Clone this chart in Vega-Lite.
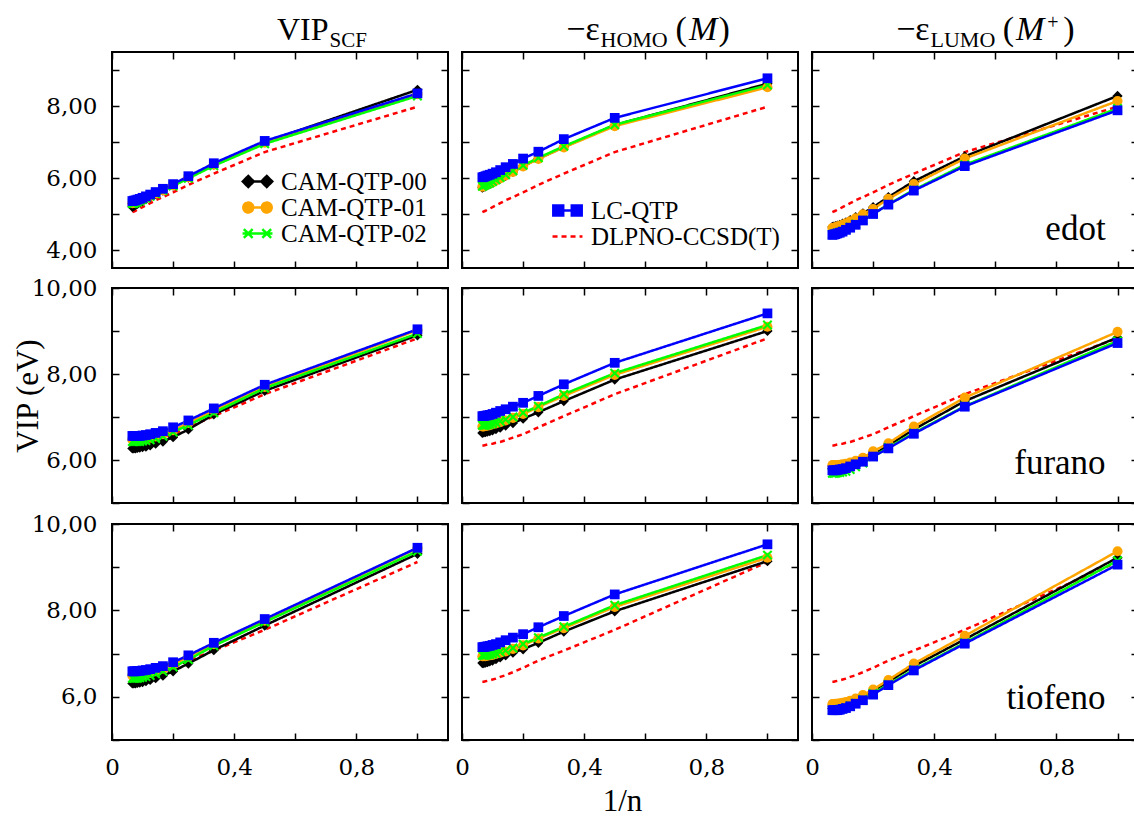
{
"$schema":"https://vega.github.io/schema/vega-lite/v6.json",
"padding":{"left":11,"top":12,"right":0,"bottom":3},
"background":"white",
"config":{
 "view":{"stroke":"black","strokeWidth":2},
 "axis":{"domain":false,"grid":false,"tickColor":"black","tickWidth":1.5,"labelColor":"black","labelFont":"DejaVu Serif","labelFontSize":23,"titleFont":"Liberation Serif","titleFontSize":31,"titleFontWeight":"normal","titleColor":"black"},
 "legend":{"labelFont":"Liberation Serif","labelFontSize":25,"labelColor":"black","padding":0,"rowPadding":0,"labelOffset":11,"symbolSize":484,"symbolStrokeWidth":2.5,"labelLimit":0},
 "text":{"font":"Liberation Serif","color":"black"}
},
"data":{"values":[
{"r":"edot","c":"ref","s":"DLPNO-CCSD(T)","x":1,"y":7.98},{"r":"edot","c":"ref","s":"DLPNO-CCSD(T)","x":0.5,"y":6.72},{"r":"edot","c":"ref","s":"DLPNO-CCSD(T)","x":0.3333,"y":6.12},{"r":"edot","c":"ref","s":"DLPNO-CCSD(T)","x":0.25,"y":5.81},{"r":"edot","c":"ref","s":"DLPNO-CCSD(T)","x":0.2,"y":5.60},{"r":"edot","c":"ref","s":"DLPNO-CCSD(T)","x":0.1667,"y":5.47},{"r":"edot","c":"ref","s":"DLPNO-CCSD(T)","x":0.1429,"y":5.38},{"r":"edot","c":"ref","s":"DLPNO-CCSD(T)","x":0.125,"y":5.30},{"r":"edot","c":"ref","s":"DLPNO-CCSD(T)","x":0.1111,"y":5.24},{"r":"edot","c":"ref","s":"DLPNO-CCSD(T)","x":0.1,"y":5.19},{"r":"edot","c":"ref","s":"DLPNO-CCSD(T)","x":0.0909,"y":5.15},{"r":"edot","c":"ref","s":"DLPNO-CCSD(T)","x":0.0833,"y":5.12},{"r":"edot","c":"ref","s":"DLPNO-CCSD(T)","x":0.0769,"y":5.09},{"r":"edot","c":"ref","s":"DLPNO-CCSD(T)","x":0.0714,"y":5.07},{"r":"edot","c":"ref","s":"DLPNO-CCSD(T)","x":0.0667,"y":5.05},
{"r":"furano","c":"ref","s":"DLPNO-CCSD(T)","x":1,"y":8.83},{"r":"furano","c":"ref","s":"DLPNO-CCSD(T)","x":0.5,"y":7.53},{"r":"furano","c":"ref","s":"DLPNO-CCSD(T)","x":0.3333,"y":7.02},{"r":"furano","c":"ref","s":"DLPNO-CCSD(T)","x":0.25,"y":6.76},{"r":"furano","c":"ref","s":"DLPNO-CCSD(T)","x":0.2,"y":6.60},{"r":"furano","c":"ref","s":"DLPNO-CCSD(T)","x":0.1667,"y":6.52},{"r":"furano","c":"ref","s":"DLPNO-CCSD(T)","x":0.1429,"y":6.46},{"r":"furano","c":"ref","s":"DLPNO-CCSD(T)","x":0.125,"y":6.42},{"r":"furano","c":"ref","s":"DLPNO-CCSD(T)","x":0.1111,"y":6.40},{"r":"furano","c":"ref","s":"DLPNO-CCSD(T)","x":0.1,"y":6.38},{"r":"furano","c":"ref","s":"DLPNO-CCSD(T)","x":0.0909,"y":6.37},{"r":"furano","c":"ref","s":"DLPNO-CCSD(T)","x":0.0833,"y":6.36},{"r":"furano","c":"ref","s":"DLPNO-CCSD(T)","x":0.0769,"y":6.35},{"r":"furano","c":"ref","s":"DLPNO-CCSD(T)","x":0.0714,"y":6.34},{"r":"furano","c":"ref","s":"DLPNO-CCSD(T)","x":0.0667,"y":6.34},
{"r":"tiofeno","c":"ref","s":"DLPNO-CCSD(T)","x":1,"y":9.12},{"r":"tiofeno","c":"ref","s":"DLPNO-CCSD(T)","x":0.5,"y":7.55},{"r":"tiofeno","c":"ref","s":"DLPNO-CCSD(T)","x":0.3333,"y":7.07},{"r":"tiofeno","c":"ref","s":"DLPNO-CCSD(T)","x":0.25,"y":6.84},{"r":"tiofeno","c":"ref","s":"DLPNO-CCSD(T)","x":0.2,"y":6.67},{"r":"tiofeno","c":"ref","s":"DLPNO-CCSD(T)","x":0.1667,"y":6.57},{"r":"tiofeno","c":"ref","s":"DLPNO-CCSD(T)","x":0.1429,"y":6.50},{"r":"tiofeno","c":"ref","s":"DLPNO-CCSD(T)","x":0.125,"y":6.46},{"r":"tiofeno","c":"ref","s":"DLPNO-CCSD(T)","x":0.1111,"y":6.42},{"r":"tiofeno","c":"ref","s":"DLPNO-CCSD(T)","x":0.1,"y":6.40},{"r":"tiofeno","c":"ref","s":"DLPNO-CCSD(T)","x":0.0909,"y":6.38},{"r":"tiofeno","c":"ref","s":"DLPNO-CCSD(T)","x":0.0833,"y":6.37},{"r":"tiofeno","c":"ref","s":"DLPNO-CCSD(T)","x":0.0769,"y":6.36},{"r":"tiofeno","c":"ref","s":"DLPNO-CCSD(T)","x":0.0714,"y":6.35},{"r":"tiofeno","c":"ref","s":"DLPNO-CCSD(T)","x":0.0667,"y":6.35},

{"r":"edot","c":"VIP","s":"CAM-QTP-00","x":1,"y":8.45},{"r":"edot","c":"VIP","s":"CAM-QTP-00","x":0.5,"y":7.00},{"r":"edot","c":"VIP","s":"CAM-QTP-00","x":0.3333,"y":6.37},{"r":"edot","c":"VIP","s":"CAM-QTP-00","x":0.25,"y":6.01},{"r":"edot","c":"VIP","s":"CAM-QTP-00","x":0.2,"y":5.79},{"r":"edot","c":"VIP","s":"CAM-QTP-00","x":0.1667,"y":5.65},{"r":"edot","c":"VIP","s":"CAM-QTP-00","x":0.1429,"y":5.55},{"r":"edot","c":"VIP","s":"CAM-QTP-00","x":0.125,"y":5.47},{"r":"edot","c":"VIP","s":"CAM-QTP-00","x":0.1111,"y":5.41},{"r":"edot","c":"VIP","s":"CAM-QTP-00","x":0.1,"y":5.36},{"r":"edot","c":"VIP","s":"CAM-QTP-00","x":0.0909,"y":5.32},{"r":"edot","c":"VIP","s":"CAM-QTP-00","x":0.0833,"y":5.28},{"r":"edot","c":"VIP","s":"CAM-QTP-00","x":0.0769,"y":5.25},{"r":"edot","c":"VIP","s":"CAM-QTP-00","x":0.0714,"y":5.22},{"r":"edot","c":"VIP","s":"CAM-QTP-00","x":0.0667,"y":5.20},
{"r":"edot","c":"VIP","s":"CAM-QTP-01","x":1,"y":8.33},{"r":"edot","c":"VIP","s":"CAM-QTP-01","x":0.5,"y":6.98},{"r":"edot","c":"VIP","s":"CAM-QTP-01","x":0.3333,"y":6.37},{"r":"edot","c":"VIP","s":"CAM-QTP-01","x":0.25,"y":6.02},{"r":"edot","c":"VIP","s":"CAM-QTP-01","x":0.2,"y":5.80},{"r":"edot","c":"VIP","s":"CAM-QTP-01","x":0.1667,"y":5.66},{"r":"edot","c":"VIP","s":"CAM-QTP-01","x":0.1429,"y":5.57},{"r":"edot","c":"VIP","s":"CAM-QTP-01","x":0.125,"y":5.50},{"r":"edot","c":"VIP","s":"CAM-QTP-01","x":0.1111,"y":5.45},{"r":"edot","c":"VIP","s":"CAM-QTP-01","x":0.1,"y":5.41},{"r":"edot","c":"VIP","s":"CAM-QTP-01","x":0.0909,"y":5.38},{"r":"edot","c":"VIP","s":"CAM-QTP-01","x":0.0833,"y":5.35},{"r":"edot","c":"VIP","s":"CAM-QTP-01","x":0.0769,"y":5.33},{"r":"edot","c":"VIP","s":"CAM-QTP-01","x":0.0714,"y":5.31},{"r":"edot","c":"VIP","s":"CAM-QTP-01","x":0.0667,"y":5.30},
{"r":"edot","c":"VIP","s":"CAM-QTP-02","x":1,"y":8.28},{"r":"edot","c":"VIP","s":"CAM-QTP-02","x":0.5,"y":6.95},{"r":"edot","c":"VIP","s":"CAM-QTP-02","x":0.3333,"y":6.34},{"r":"edot","c":"VIP","s":"CAM-QTP-02","x":0.25,"y":5.99},{"r":"edot","c":"VIP","s":"CAM-QTP-02","x":0.2,"y":5.78},{"r":"edot","c":"VIP","s":"CAM-QTP-02","x":0.1667,"y":5.65},{"r":"edot","c":"VIP","s":"CAM-QTP-02","x":0.1429,"y":5.56},{"r":"edot","c":"VIP","s":"CAM-QTP-02","x":0.125,"y":5.49},{"r":"edot","c":"VIP","s":"CAM-QTP-02","x":0.1111,"y":5.44},{"r":"edot","c":"VIP","s":"CAM-QTP-02","x":0.1,"y":5.40},{"r":"edot","c":"VIP","s":"CAM-QTP-02","x":0.0909,"y":5.37},{"r":"edot","c":"VIP","s":"CAM-QTP-02","x":0.0833,"y":5.34},{"r":"edot","c":"VIP","s":"CAM-QTP-02","x":0.0769,"y":5.32},{"r":"edot","c":"VIP","s":"CAM-QTP-02","x":0.0714,"y":5.30},{"r":"edot","c":"VIP","s":"CAM-QTP-02","x":0.0667,"y":5.29},
{"r":"edot","c":"VIP","s":"LC-QTP","x":1,"y":8.35},{"r":"edot","c":"VIP","s":"LC-QTP","x":0.5,"y":7.03},{"r":"edot","c":"VIP","s":"LC-QTP","x":0.3333,"y":6.41},{"r":"edot","c":"VIP","s":"LC-QTP","x":0.25,"y":6.05},{"r":"edot","c":"VIP","s":"LC-QTP","x":0.2,"y":5.83},{"r":"edot","c":"VIP","s":"LC-QTP","x":0.1667,"y":5.70},{"r":"edot","c":"VIP","s":"LC-QTP","x":0.1429,"y":5.61},{"r":"edot","c":"VIP","s":"LC-QTP","x":0.125,"y":5.54},{"r":"edot","c":"VIP","s":"LC-QTP","x":0.1111,"y":5.49},{"r":"edot","c":"VIP","s":"LC-QTP","x":0.1,"y":5.45},{"r":"edot","c":"VIP","s":"LC-QTP","x":0.0909,"y":5.42},{"r":"edot","c":"VIP","s":"LC-QTP","x":0.0833,"y":5.40},{"r":"edot","c":"VIP","s":"LC-QTP","x":0.0769,"y":5.38},{"r":"edot","c":"VIP","s":"LC-QTP","x":0.0714,"y":5.37},{"r":"edot","c":"VIP","s":"LC-QTP","x":0.0667,"y":5.36},

{"r":"edot","c":"HOMO","s":"CAM-QTP-00","x":1,"y":8.62},{"r":"edot","c":"HOMO","s":"CAM-QTP-00","x":0.5,"y":7.47},{"r":"edot","c":"HOMO","s":"CAM-QTP-00","x":0.3333,"y":6.86},{"r":"edot","c":"HOMO","s":"CAM-QTP-00","x":0.25,"y":6.54},{"r":"edot","c":"HOMO","s":"CAM-QTP-00","x":0.2,"y":6.33},{"r":"edot","c":"HOMO","s":"CAM-QTP-00","x":0.1667,"y":6.17},{"r":"edot","c":"HOMO","s":"CAM-QTP-00","x":0.1429,"y":6.06},{"r":"edot","c":"HOMO","s":"CAM-QTP-00","x":0.125,"y":5.98},{"r":"edot","c":"HOMO","s":"CAM-QTP-00","x":0.1111,"y":5.92},{"r":"edot","c":"HOMO","s":"CAM-QTP-00","x":0.1,"y":5.87},{"r":"edot","c":"HOMO","s":"CAM-QTP-00","x":0.0909,"y":5.83},{"r":"edot","c":"HOMO","s":"CAM-QTP-00","x":0.0833,"y":5.80},{"r":"edot","c":"HOMO","s":"CAM-QTP-00","x":0.0769,"y":5.77},{"r":"edot","c":"HOMO","s":"CAM-QTP-00","x":0.0714,"y":5.75},{"r":"edot","c":"HOMO","s":"CAM-QTP-00","x":0.0667,"y":5.73},
{"r":"edot","c":"HOMO","s":"CAM-QTP-01","x":1,"y":8.52},{"r":"edot","c":"HOMO","s":"CAM-QTP-01","x":0.5,"y":7.44},{"r":"edot","c":"HOMO","s":"CAM-QTP-01","x":0.3333,"y":6.85},{"r":"edot","c":"HOMO","s":"CAM-QTP-01","x":0.25,"y":6.53},{"r":"edot","c":"HOMO","s":"CAM-QTP-01","x":0.2,"y":6.32},{"r":"edot","c":"HOMO","s":"CAM-QTP-01","x":0.1667,"y":6.17},{"r":"edot","c":"HOMO","s":"CAM-QTP-01","x":0.1429,"y":6.07},{"r":"edot","c":"HOMO","s":"CAM-QTP-01","x":0.125,"y":5.99},{"r":"edot","c":"HOMO","s":"CAM-QTP-01","x":0.1111,"y":5.93},{"r":"edot","c":"HOMO","s":"CAM-QTP-01","x":0.1,"y":5.88},{"r":"edot","c":"HOMO","s":"CAM-QTP-01","x":0.0909,"y":5.85},{"r":"edot","c":"HOMO","s":"CAM-QTP-01","x":0.0833,"y":5.82},{"r":"edot","c":"HOMO","s":"CAM-QTP-01","x":0.0769,"y":5.80},{"r":"edot","c":"HOMO","s":"CAM-QTP-01","x":0.0714,"y":5.78},{"r":"edot","c":"HOMO","s":"CAM-QTP-01","x":0.0667,"y":5.76},
{"r":"edot","c":"HOMO","s":"CAM-QTP-02","x":1,"y":8.58},{"r":"edot","c":"HOMO","s":"CAM-QTP-02","x":0.5,"y":7.48},{"r":"edot","c":"HOMO","s":"CAM-QTP-02","x":0.3333,"y":6.88},{"r":"edot","c":"HOMO","s":"CAM-QTP-02","x":0.25,"y":6.56},{"r":"edot","c":"HOMO","s":"CAM-QTP-02","x":0.2,"y":6.35},{"r":"edot","c":"HOMO","s":"CAM-QTP-02","x":0.1667,"y":6.20},{"r":"edot","c":"HOMO","s":"CAM-QTP-02","x":0.1429,"y":6.09},{"r":"edot","c":"HOMO","s":"CAM-QTP-02","x":0.125,"y":6.01},{"r":"edot","c":"HOMO","s":"CAM-QTP-02","x":0.1111,"y":5.95},{"r":"edot","c":"HOMO","s":"CAM-QTP-02","x":0.1,"y":5.90},{"r":"edot","c":"HOMO","s":"CAM-QTP-02","x":0.0909,"y":5.86},{"r":"edot","c":"HOMO","s":"CAM-QTP-02","x":0.0833,"y":5.83},{"r":"edot","c":"HOMO","s":"CAM-QTP-02","x":0.0769,"y":5.81},{"r":"edot","c":"HOMO","s":"CAM-QTP-02","x":0.0714,"y":5.79},{"r":"edot","c":"HOMO","s":"CAM-QTP-02","x":0.0667,"y":5.77},
{"r":"edot","c":"HOMO","s":"LC-QTP","x":1,"y":8.77},{"r":"edot","c":"HOMO","s":"LC-QTP","x":0.5,"y":7.67},{"r":"edot","c":"HOMO","s":"LC-QTP","x":0.3333,"y":7.08},{"r":"edot","c":"HOMO","s":"LC-QTP","x":0.25,"y":6.73},{"r":"edot","c":"HOMO","s":"LC-QTP","x":0.2,"y":6.54},{"r":"edot","c":"HOMO","s":"LC-QTP","x":0.1667,"y":6.39},{"r":"edot","c":"HOMO","s":"LC-QTP","x":0.1429,"y":6.30},{"r":"edot","c":"HOMO","s":"LC-QTP","x":0.125,"y":6.22},{"r":"edot","c":"HOMO","s":"LC-QTP","x":0.1111,"y":6.16},{"r":"edot","c":"HOMO","s":"LC-QTP","x":0.1,"y":6.12},{"r":"edot","c":"HOMO","s":"LC-QTP","x":0.0909,"y":6.09},{"r":"edot","c":"HOMO","s":"LC-QTP","x":0.0833,"y":6.07},{"r":"edot","c":"HOMO","s":"LC-QTP","x":0.0769,"y":6.05},{"r":"edot","c":"HOMO","s":"LC-QTP","x":0.0714,"y":6.03},{"r":"edot","c":"HOMO","s":"LC-QTP","x":0.0667,"y":6.02},

{"r":"edot","c":"LUMO","s":"CAM-QTP-00","x":1,"y":8.28},{"r":"edot","c":"LUMO","s":"CAM-QTP-00","x":0.5,"y":6.60},{"r":"edot","c":"LUMO","s":"CAM-QTP-00","x":0.3333,"y":5.91},{"r":"edot","c":"LUMO","s":"CAM-QTP-00","x":0.25,"y":5.47},{"r":"edot","c":"LUMO","s":"CAM-QTP-00","x":0.2,"y":5.19},{"r":"edot","c":"LUMO","s":"CAM-QTP-00","x":0.1667,"y":5.02},{"r":"edot","c":"LUMO","s":"CAM-QTP-00","x":0.1429,"y":4.91},{"r":"edot","c":"LUMO","s":"CAM-QTP-00","x":0.125,"y":4.83},{"r":"edot","c":"LUMO","s":"CAM-QTP-00","x":0.1111,"y":4.77},{"r":"edot","c":"LUMO","s":"CAM-QTP-00","x":0.1,"y":4.73},{"r":"edot","c":"LUMO","s":"CAM-QTP-00","x":0.0909,"y":4.70},{"r":"edot","c":"LUMO","s":"CAM-QTP-00","x":0.0833,"y":4.68},{"r":"edot","c":"LUMO","s":"CAM-QTP-00","x":0.0769,"y":4.66},{"r":"edot","c":"LUMO","s":"CAM-QTP-00","x":0.0714,"y":4.65},{"r":"edot","c":"LUMO","s":"CAM-QTP-00","x":0.0667,"y":4.64},
{"r":"edot","c":"LUMO","s":"CAM-QTP-01","x":1,"y":8.14},{"r":"edot","c":"LUMO","s":"CAM-QTP-01","x":0.5,"y":6.54},{"r":"edot","c":"LUMO","s":"CAM-QTP-01","x":0.3333,"y":5.83},{"r":"edot","c":"LUMO","s":"CAM-QTP-01","x":0.25,"y":5.42},{"r":"edot","c":"LUMO","s":"CAM-QTP-01","x":0.2,"y":5.14},{"r":"edot","c":"LUMO","s":"CAM-QTP-01","x":0.1667,"y":4.99},{"r":"edot","c":"LUMO","s":"CAM-QTP-01","x":0.1429,"y":4.88},{"r":"edot","c":"LUMO","s":"CAM-QTP-01","x":0.125,"y":4.80},{"r":"edot","c":"LUMO","s":"CAM-QTP-01","x":0.1111,"y":4.74},{"r":"edot","c":"LUMO","s":"CAM-QTP-01","x":0.1,"y":4.70},{"r":"edot","c":"LUMO","s":"CAM-QTP-01","x":0.0909,"y":4.67},{"r":"edot","c":"LUMO","s":"CAM-QTP-01","x":0.0833,"y":4.65},{"r":"edot","c":"LUMO","s":"CAM-QTP-01","x":0.0769,"y":4.63},{"r":"edot","c":"LUMO","s":"CAM-QTP-01","x":0.0714,"y":4.62},{"r":"edot","c":"LUMO","s":"CAM-QTP-01","x":0.0667,"y":4.61},
{"r":"edot","c":"LUMO","s":"CAM-QTP-02","x":1,"y":7.93},{"r":"edot","c":"LUMO","s":"CAM-QTP-02","x":0.5,"y":6.37},{"r":"edot","c":"LUMO","s":"CAM-QTP-02","x":0.3333,"y":5.67},{"r":"edot","c":"LUMO","s":"CAM-QTP-02","x":0.25,"y":5.27},{"r":"edot","c":"LUMO","s":"CAM-QTP-02","x":0.2,"y":5.00},{"r":"edot","c":"LUMO","s":"CAM-QTP-02","x":0.1667,"y":4.83},{"r":"edot","c":"LUMO","s":"CAM-QTP-02","x":0.1429,"y":4.72},{"r":"edot","c":"LUMO","s":"CAM-QTP-02","x":0.125,"y":4.63},{"r":"edot","c":"LUMO","s":"CAM-QTP-02","x":0.1111,"y":4.57},{"r":"edot","c":"LUMO","s":"CAM-QTP-02","x":0.1,"y":4.52},{"r":"edot","c":"LUMO","s":"CAM-QTP-02","x":0.0909,"y":4.49},{"r":"edot","c":"LUMO","s":"CAM-QTP-02","x":0.0833,"y":4.47},{"r":"edot","c":"LUMO","s":"CAM-QTP-02","x":0.0769,"y":4.45},{"r":"edot","c":"LUMO","s":"CAM-QTP-02","x":0.0714,"y":4.44},{"r":"edot","c":"LUMO","s":"CAM-QTP-02","x":0.0667,"y":4.43},
{"r":"edot","c":"LUMO","s":"LC-QTP","x":1,"y":7.88},{"r":"edot","c":"LUMO","s":"LC-QTP","x":0.5,"y":6.33},{"r":"edot","c":"LUMO","s":"LC-QTP","x":0.3333,"y":5.65},{"r":"edot","c":"LUMO","s":"LC-QTP","x":0.25,"y":5.26},{"r":"edot","c":"LUMO","s":"LC-QTP","x":0.2,"y":5.00},{"r":"edot","c":"LUMO","s":"LC-QTP","x":0.1667,"y":4.82},{"r":"edot","c":"LUMO","s":"LC-QTP","x":0.1429,"y":4.70},{"r":"edot","c":"LUMO","s":"LC-QTP","x":0.125,"y":4.62},{"r":"edot","c":"LUMO","s":"LC-QTP","x":0.1111,"y":4.56},{"r":"edot","c":"LUMO","s":"LC-QTP","x":0.1,"y":4.51},{"r":"edot","c":"LUMO","s":"LC-QTP","x":0.0909,"y":4.48},{"r":"edot","c":"LUMO","s":"LC-QTP","x":0.0833,"y":4.46},{"r":"edot","c":"LUMO","s":"LC-QTP","x":0.0769,"y":4.44},{"r":"edot","c":"LUMO","s":"LC-QTP","x":0.0714,"y":4.43},{"r":"edot","c":"LUMO","s":"LC-QTP","x":0.0667,"y":4.42},

{"r":"furano","c":"VIP","s":"CAM-QTP-00","x":1,"y":8.90},{"r":"furano","c":"VIP","s":"CAM-QTP-00","x":0.5,"y":7.61},{"r":"furano","c":"VIP","s":"CAM-QTP-00","x":0.3333,"y":7.06},{"r":"furano","c":"VIP","s":"CAM-QTP-00","x":0.25,"y":6.71},{"r":"furano","c":"VIP","s":"CAM-QTP-00","x":0.2,"y":6.53},{"r":"furano","c":"VIP","s":"CAM-QTP-00","x":0.1667,"y":6.43},{"r":"furano","c":"VIP","s":"CAM-QTP-00","x":0.1429,"y":6.38},{"r":"furano","c":"VIP","s":"CAM-QTP-00","x":0.125,"y":6.34},{"r":"furano","c":"VIP","s":"CAM-QTP-00","x":0.1111,"y":6.31},{"r":"furano","c":"VIP","s":"CAM-QTP-00","x":0.1,"y":6.30},{"r":"furano","c":"VIP","s":"CAM-QTP-00","x":0.0909,"y":6.29},{"r":"furano","c":"VIP","s":"CAM-QTP-00","x":0.0833,"y":6.28},{"r":"furano","c":"VIP","s":"CAM-QTP-00","x":0.0769,"y":6.27},{"r":"furano","c":"VIP","s":"CAM-QTP-00","x":0.0714,"y":6.27},{"r":"furano","c":"VIP","s":"CAM-QTP-00","x":0.0667,"y":6.27},
{"r":"furano","c":"VIP","s":"CAM-QTP-01","x":1,"y":9.02},{"r":"furano","c":"VIP","s":"CAM-QTP-01","x":0.5,"y":7.70},{"r":"furano","c":"VIP","s":"CAM-QTP-01","x":0.3333,"y":7.15},{"r":"furano","c":"VIP","s":"CAM-QTP-01","x":0.25,"y":6.86},{"r":"furano","c":"VIP","s":"CAM-QTP-01","x":0.2,"y":6.69},{"r":"furano","c":"VIP","s":"CAM-QTP-01","x":0.1667,"y":6.60},{"r":"furano","c":"VIP","s":"CAM-QTP-01","x":0.1429,"y":6.55},{"r":"furano","c":"VIP","s":"CAM-QTP-01","x":0.125,"y":6.52},{"r":"furano","c":"VIP","s":"CAM-QTP-01","x":0.1111,"y":6.50},{"r":"furano","c":"VIP","s":"CAM-QTP-01","x":0.1,"y":6.49},{"r":"furano","c":"VIP","s":"CAM-QTP-01","x":0.0909,"y":6.48},{"r":"furano","c":"VIP","s":"CAM-QTP-01","x":0.0833,"y":6.47},{"r":"furano","c":"VIP","s":"CAM-QTP-01","x":0.0769,"y":6.47},{"r":"furano","c":"VIP","s":"CAM-QTP-01","x":0.0714,"y":6.47},{"r":"furano","c":"VIP","s":"CAM-QTP-01","x":0.0667,"y":6.47},
{"r":"furano","c":"VIP","s":"CAM-QTP-02","x":1,"y":8.94},{"r":"furano","c":"VIP","s":"CAM-QTP-02","x":0.5,"y":7.67},{"r":"furano","c":"VIP","s":"CAM-QTP-02","x":0.3333,"y":7.10},{"r":"furano","c":"VIP","s":"CAM-QTP-02","x":0.25,"y":6.81},{"r":"furano","c":"VIP","s":"CAM-QTP-02","x":0.2,"y":6.65},{"r":"furano","c":"VIP","s":"CAM-QTP-02","x":0.1667,"y":6.55},{"r":"furano","c":"VIP","s":"CAM-QTP-02","x":0.1429,"y":6.50},{"r":"furano","c":"VIP","s":"CAM-QTP-02","x":0.125,"y":6.47},{"r":"furano","c":"VIP","s":"CAM-QTP-02","x":0.1111,"y":6.45},{"r":"furano","c":"VIP","s":"CAM-QTP-02","x":0.1,"y":6.44},{"r":"furano","c":"VIP","s":"CAM-QTP-02","x":0.0909,"y":6.43},{"r":"furano","c":"VIP","s":"CAM-QTP-02","x":0.0833,"y":6.43},{"r":"furano","c":"VIP","s":"CAM-QTP-02","x":0.0769,"y":6.43},{"r":"furano","c":"VIP","s":"CAM-QTP-02","x":0.0714,"y":6.43},{"r":"furano","c":"VIP","s":"CAM-QTP-02","x":0.0667,"y":6.43},
{"r":"furano","c":"VIP","s":"LC-QTP","x":1,"y":9.04},{"r":"furano","c":"VIP","s":"LC-QTP","x":0.5,"y":7.75},{"r":"furano","c":"VIP","s":"LC-QTP","x":0.3333,"y":7.20},{"r":"furano","c":"VIP","s":"LC-QTP","x":0.25,"y":6.92},{"r":"furano","c":"VIP","s":"LC-QTP","x":0.2,"y":6.76},{"r":"furano","c":"VIP","s":"LC-QTP","x":0.1667,"y":6.67},{"r":"furano","c":"VIP","s":"LC-QTP","x":0.1429,"y":6.63},{"r":"furano","c":"VIP","s":"LC-QTP","x":0.125,"y":6.60},{"r":"furano","c":"VIP","s":"LC-QTP","x":0.1111,"y":6.58},{"r":"furano","c":"VIP","s":"LC-QTP","x":0.1,"y":6.57},{"r":"furano","c":"VIP","s":"LC-QTP","x":0.0909,"y":6.56},{"r":"furano","c":"VIP","s":"LC-QTP","x":0.0833,"y":6.56},{"r":"furano","c":"VIP","s":"LC-QTP","x":0.0769,"y":6.56},{"r":"furano","c":"VIP","s":"LC-QTP","x":0.0714,"y":6.56},{"r":"furano","c":"VIP","s":"LC-QTP","x":0.0667,"y":6.56},

{"r":"furano","c":"HOMO","s":"CAM-QTP-00","x":1,"y":9.00},{"r":"furano","c":"HOMO","s":"CAM-QTP-00","x":0.5,"y":7.87},{"r":"furano","c":"HOMO","s":"CAM-QTP-00","x":0.3333,"y":7.37},{"r":"furano","c":"HOMO","s":"CAM-QTP-00","x":0.25,"y":7.11},{"r":"furano","c":"HOMO","s":"CAM-QTP-00","x":0.2,"y":6.96},{"r":"furano","c":"HOMO","s":"CAM-QTP-00","x":0.1667,"y":6.86},{"r":"furano","c":"HOMO","s":"CAM-QTP-00","x":0.1429,"y":6.80},{"r":"furano","c":"HOMO","s":"CAM-QTP-00","x":0.125,"y":6.75},{"r":"furano","c":"HOMO","s":"CAM-QTP-00","x":0.1111,"y":6.72},{"r":"furano","c":"HOMO","s":"CAM-QTP-00","x":0.1,"y":6.69},{"r":"furano","c":"HOMO","s":"CAM-QTP-00","x":0.0909,"y":6.67},{"r":"furano","c":"HOMO","s":"CAM-QTP-00","x":0.0833,"y":6.66},{"r":"furano","c":"HOMO","s":"CAM-QTP-00","x":0.0769,"y":6.65},{"r":"furano","c":"HOMO","s":"CAM-QTP-00","x":0.0714,"y":6.64},{"r":"furano","c":"HOMO","s":"CAM-QTP-00","x":0.0667,"y":6.63},
{"r":"furano","c":"HOMO","s":"CAM-QTP-01","x":1,"y":9.10},{"r":"furano","c":"HOMO","s":"CAM-QTP-01","x":0.5,"y":7.98},{"r":"furano","c":"HOMO","s":"CAM-QTP-01","x":0.3333,"y":7.49},{"r":"furano","c":"HOMO","s":"CAM-QTP-01","x":0.25,"y":7.23},{"r":"furano","c":"HOMO","s":"CAM-QTP-01","x":0.2,"y":7.07},{"r":"furano","c":"HOMO","s":"CAM-QTP-01","x":0.1667,"y":6.98},{"r":"furano","c":"HOMO","s":"CAM-QTP-01","x":0.1429,"y":6.92},{"r":"furano","c":"HOMO","s":"CAM-QTP-01","x":0.125,"y":6.88},{"r":"furano","c":"HOMO","s":"CAM-QTP-01","x":0.1111,"y":6.85},{"r":"furano","c":"HOMO","s":"CAM-QTP-01","x":0.1,"y":6.83},{"r":"furano","c":"HOMO","s":"CAM-QTP-01","x":0.0909,"y":6.81},{"r":"furano","c":"HOMO","s":"CAM-QTP-01","x":0.0833,"y":6.80},{"r":"furano","c":"HOMO","s":"CAM-QTP-01","x":0.0769,"y":6.79},{"r":"furano","c":"HOMO","s":"CAM-QTP-01","x":0.0714,"y":6.78},{"r":"furano","c":"HOMO","s":"CAM-QTP-01","x":0.0667,"y":6.78},
{"r":"furano","c":"HOMO","s":"CAM-QTP-02","x":1,"y":9.14},{"r":"furano","c":"HOMO","s":"CAM-QTP-02","x":0.5,"y":8.02},{"r":"furano","c":"HOMO","s":"CAM-QTP-02","x":0.3333,"y":7.53},{"r":"furano","c":"HOMO","s":"CAM-QTP-02","x":0.25,"y":7.25},{"r":"furano","c":"HOMO","s":"CAM-QTP-02","x":0.2,"y":7.10},{"r":"furano","c":"HOMO","s":"CAM-QTP-02","x":0.1667,"y":7.00},{"r":"furano","c":"HOMO","s":"CAM-QTP-02","x":0.1429,"y":6.94},{"r":"furano","c":"HOMO","s":"CAM-QTP-02","x":0.125,"y":6.90},{"r":"furano","c":"HOMO","s":"CAM-QTP-02","x":0.1111,"y":6.87},{"r":"furano","c":"HOMO","s":"CAM-QTP-02","x":0.1,"y":6.85},{"r":"furano","c":"HOMO","s":"CAM-QTP-02","x":0.0909,"y":6.83},{"r":"furano","c":"HOMO","s":"CAM-QTP-02","x":0.0833,"y":6.82},{"r":"furano","c":"HOMO","s":"CAM-QTP-02","x":0.0769,"y":6.81},{"r":"furano","c":"HOMO","s":"CAM-QTP-02","x":0.0714,"y":6.81},{"r":"furano","c":"HOMO","s":"CAM-QTP-02","x":0.0667,"y":6.81},
{"r":"furano","c":"HOMO","s":"LC-QTP","x":1,"y":9.41},{"r":"furano","c":"HOMO","s":"LC-QTP","x":0.5,"y":8.26},{"r":"furano","c":"HOMO","s":"LC-QTP","x":0.3333,"y":7.76},{"r":"furano","c":"HOMO","s":"LC-QTP","x":0.25,"y":7.49},{"r":"furano","c":"HOMO","s":"LC-QTP","x":0.2,"y":7.33},{"r":"furano","c":"HOMO","s":"LC-QTP","x":0.1667,"y":7.24},{"r":"furano","c":"HOMO","s":"LC-QTP","x":0.1429,"y":7.18},{"r":"furano","c":"HOMO","s":"LC-QTP","x":0.125,"y":7.14},{"r":"furano","c":"HOMO","s":"LC-QTP","x":0.1111,"y":7.10},{"r":"furano","c":"HOMO","s":"LC-QTP","x":0.1,"y":7.07},{"r":"furano","c":"HOMO","s":"LC-QTP","x":0.0909,"y":7.05},{"r":"furano","c":"HOMO","s":"LC-QTP","x":0.0833,"y":7.04},{"r":"furano","c":"HOMO","s":"LC-QTP","x":0.0769,"y":7.03},{"r":"furano","c":"HOMO","s":"LC-QTP","x":0.0714,"y":7.02},{"r":"furano","c":"HOMO","s":"LC-QTP","x":0.0667,"y":7.02},

{"r":"furano","c":"LUMO","s":"CAM-QTP-00","x":1,"y":8.85},{"r":"furano","c":"LUMO","s":"CAM-QTP-00","x":0.5,"y":7.37},{"r":"furano","c":"LUMO","s":"CAM-QTP-00","x":0.3333,"y":6.71},{"r":"furano","c":"LUMO","s":"CAM-QTP-00","x":0.25,"y":6.34},{"r":"furano","c":"LUMO","s":"CAM-QTP-00","x":0.2,"y":6.12},{"r":"furano","c":"LUMO","s":"CAM-QTP-00","x":0.1667,"y":5.99},{"r":"furano","c":"LUMO","s":"CAM-QTP-00","x":0.1429,"y":5.91},{"r":"furano","c":"LUMO","s":"CAM-QTP-00","x":0.125,"y":5.86},{"r":"furano","c":"LUMO","s":"CAM-QTP-00","x":0.1111,"y":5.83},{"r":"furano","c":"LUMO","s":"CAM-QTP-00","x":0.1,"y":5.81},{"r":"furano","c":"LUMO","s":"CAM-QTP-00","x":0.0909,"y":5.80},{"r":"furano","c":"LUMO","s":"CAM-QTP-00","x":0.0833,"y":5.80},{"r":"furano","c":"LUMO","s":"CAM-QTP-00","x":0.0769,"y":5.80},{"r":"furano","c":"LUMO","s":"CAM-QTP-00","x":0.0714,"y":5.80},{"r":"furano","c":"LUMO","s":"CAM-QTP-00","x":0.0667,"y":5.80},
{"r":"furano","c":"LUMO","s":"CAM-QTP-01","x":1,"y":8.98},{"r":"furano","c":"LUMO","s":"CAM-QTP-01","x":0.5,"y":7.45},{"r":"furano","c":"LUMO","s":"CAM-QTP-01","x":0.3333,"y":6.78},{"r":"furano","c":"LUMO","s":"CAM-QTP-01","x":0.25,"y":6.39},{"r":"furano","c":"LUMO","s":"CAM-QTP-01","x":0.2,"y":6.20},{"r":"furano","c":"LUMO","s":"CAM-QTP-01","x":0.1667,"y":6.05},{"r":"furano","c":"LUMO","s":"CAM-QTP-01","x":0.1429,"y":5.98},{"r":"furano","c":"LUMO","s":"CAM-QTP-01","x":0.125,"y":5.94},{"r":"furano","c":"LUMO","s":"CAM-QTP-01","x":0.1111,"y":5.91},{"r":"furano","c":"LUMO","s":"CAM-QTP-01","x":0.1,"y":5.90},{"r":"furano","c":"LUMO","s":"CAM-QTP-01","x":0.0909,"y":5.89},{"r":"furano","c":"LUMO","s":"CAM-QTP-01","x":0.0833,"y":5.88},{"r":"furano","c":"LUMO","s":"CAM-QTP-01","x":0.0769,"y":5.88},{"r":"furano","c":"LUMO","s":"CAM-QTP-01","x":0.0714,"y":5.88},{"r":"furano","c":"LUMO","s":"CAM-QTP-01","x":0.0667,"y":5.88},
{"r":"furano","c":"LUMO","s":"CAM-QTP-02","x":1,"y":8.77},{"r":"furano","c":"LUMO","s":"CAM-QTP-02","x":0.5,"y":7.25},{"r":"furano","c":"LUMO","s":"CAM-QTP-02","x":0.3333,"y":6.63},{"r":"furano","c":"LUMO","s":"CAM-QTP-02","x":0.25,"y":6.29},{"r":"furano","c":"LUMO","s":"CAM-QTP-02","x":0.2,"y":6.08},{"r":"furano","c":"LUMO","s":"CAM-QTP-02","x":0.1667,"y":5.93},{"r":"furano","c":"LUMO","s":"CAM-QTP-02","x":0.1429,"y":5.84},{"r":"furano","c":"LUMO","s":"CAM-QTP-02","x":0.125,"y":5.78},{"r":"furano","c":"LUMO","s":"CAM-QTP-02","x":0.1111,"y":5.74},{"r":"furano","c":"LUMO","s":"CAM-QTP-02","x":0.1,"y":5.72},{"r":"furano","c":"LUMO","s":"CAM-QTP-02","x":0.0909,"y":5.71},{"r":"furano","c":"LUMO","s":"CAM-QTP-02","x":0.0833,"y":5.70},{"r":"furano","c":"LUMO","s":"CAM-QTP-02","x":0.0769,"y":5.69},{"r":"furano","c":"LUMO","s":"CAM-QTP-02","x":0.0714,"y":5.69},{"r":"furano","c":"LUMO","s":"CAM-QTP-02","x":0.0667,"y":5.69},
{"r":"furano","c":"LUMO","s":"LC-QTP","x":1,"y":8.72},{"r":"furano","c":"LUMO","s":"LC-QTP","x":0.5,"y":7.24},{"r":"furano","c":"LUMO","s":"LC-QTP","x":0.3333,"y":6.61},{"r":"furano","c":"LUMO","s":"LC-QTP","x":0.25,"y":6.27},{"r":"furano","c":"LUMO","s":"LC-QTP","x":0.2,"y":6.08},{"r":"furano","c":"LUMO","s":"LC-QTP","x":0.1667,"y":5.96},{"r":"furano","c":"LUMO","s":"LC-QTP","x":0.1429,"y":5.90},{"r":"furano","c":"LUMO","s":"LC-QTP","x":0.125,"y":5.85},{"r":"furano","c":"LUMO","s":"LC-QTP","x":0.1111,"y":5.81},{"r":"furano","c":"LUMO","s":"LC-QTP","x":0.1,"y":5.79},{"r":"furano","c":"LUMO","s":"LC-QTP","x":0.0909,"y":5.78},{"r":"furano","c":"LUMO","s":"LC-QTP","x":0.0833,"y":5.77},{"r":"furano","c":"LUMO","s":"LC-QTP","x":0.0769,"y":5.76},{"r":"furano","c":"LUMO","s":"LC-QTP","x":0.0714,"y":5.76},{"r":"furano","c":"LUMO","s":"LC-QTP","x":0.0667,"y":5.76},

{"r":"tiofeno","c":"VIP","s":"CAM-QTP-00","x":1,"y":9.31},{"r":"tiofeno","c":"VIP","s":"CAM-QTP-00","x":0.5,"y":7.65},{"r":"tiofeno","c":"VIP","s":"CAM-QTP-00","x":0.3333,"y":7.08},{"r":"tiofeno","c":"VIP","s":"CAM-QTP-00","x":0.25,"y":6.77},{"r":"tiofeno","c":"VIP","s":"CAM-QTP-00","x":0.2,"y":6.59},{"r":"tiofeno","c":"VIP","s":"CAM-QTP-00","x":0.1667,"y":6.49},{"r":"tiofeno","c":"VIP","s":"CAM-QTP-00","x":0.1429,"y":6.43},{"r":"tiofeno","c":"VIP","s":"CAM-QTP-00","x":0.125,"y":6.39},{"r":"tiofeno","c":"VIP","s":"CAM-QTP-00","x":0.1111,"y":6.36},{"r":"tiofeno","c":"VIP","s":"CAM-QTP-00","x":0.1,"y":6.34},{"r":"tiofeno","c":"VIP","s":"CAM-QTP-00","x":0.0909,"y":6.33},{"r":"tiofeno","c":"VIP","s":"CAM-QTP-00","x":0.0833,"y":6.32},{"r":"tiofeno","c":"VIP","s":"CAM-QTP-00","x":0.0769,"y":6.31},{"r":"tiofeno","c":"VIP","s":"CAM-QTP-00","x":0.0714,"y":6.31},{"r":"tiofeno","c":"VIP","s":"CAM-QTP-00","x":0.0667,"y":6.31},
{"r":"tiofeno","c":"VIP","s":"CAM-QTP-01","x":1,"y":9.44},{"r":"tiofeno","c":"VIP","s":"CAM-QTP-01","x":0.5,"y":7.76},{"r":"tiofeno","c":"VIP","s":"CAM-QTP-01","x":0.3333,"y":7.22},{"r":"tiofeno","c":"VIP","s":"CAM-QTP-01","x":0.25,"y":6.93},{"r":"tiofeno","c":"VIP","s":"CAM-QTP-01","x":0.2,"y":6.75},{"r":"tiofeno","c":"VIP","s":"CAM-QTP-01","x":0.1667,"y":6.65},{"r":"tiofeno","c":"VIP","s":"CAM-QTP-01","x":0.1429,"y":6.59},{"r":"tiofeno","c":"VIP","s":"CAM-QTP-01","x":0.125,"y":6.55},{"r":"tiofeno","c":"VIP","s":"CAM-QTP-01","x":0.1111,"y":6.52},{"r":"tiofeno","c":"VIP","s":"CAM-QTP-01","x":0.1,"y":6.51},{"r":"tiofeno","c":"VIP","s":"CAM-QTP-01","x":0.0909,"y":6.50},{"r":"tiofeno","c":"VIP","s":"CAM-QTP-01","x":0.0833,"y":6.49},{"r":"tiofeno","c":"VIP","s":"CAM-QTP-01","x":0.0769,"y":6.49},{"r":"tiofeno","c":"VIP","s":"CAM-QTP-01","x":0.0714,"y":6.49},{"r":"tiofeno","c":"VIP","s":"CAM-QTP-01","x":0.0667,"y":6.49},
{"r":"tiofeno","c":"VIP","s":"CAM-QTP-02","x":1,"y":9.37},{"r":"tiofeno","c":"VIP","s":"CAM-QTP-02","x":0.5,"y":7.73},{"r":"tiofeno","c":"VIP","s":"CAM-QTP-02","x":0.3333,"y":7.18},{"r":"tiofeno","c":"VIP","s":"CAM-QTP-02","x":0.25,"y":6.86},{"r":"tiofeno","c":"VIP","s":"CAM-QTP-02","x":0.2,"y":6.69},{"r":"tiofeno","c":"VIP","s":"CAM-QTP-02","x":0.1667,"y":6.59},{"r":"tiofeno","c":"VIP","s":"CAM-QTP-02","x":0.1429,"y":6.53},{"r":"tiofeno","c":"VIP","s":"CAM-QTP-02","x":0.125,"y":6.49},{"r":"tiofeno","c":"VIP","s":"CAM-QTP-02","x":0.1111,"y":6.47},{"r":"tiofeno","c":"VIP","s":"CAM-QTP-02","x":0.1,"y":6.45},{"r":"tiofeno","c":"VIP","s":"CAM-QTP-02","x":0.0909,"y":6.44},{"r":"tiofeno","c":"VIP","s":"CAM-QTP-02","x":0.0833,"y":6.43},{"r":"tiofeno","c":"VIP","s":"CAM-QTP-02","x":0.0769,"y":6.43},{"r":"tiofeno","c":"VIP","s":"CAM-QTP-02","x":0.0714,"y":6.43},{"r":"tiofeno","c":"VIP","s":"CAM-QTP-02","x":0.0667,"y":6.43},
{"r":"tiofeno","c":"VIP","s":"LC-QTP","x":1,"y":9.45},{"r":"tiofeno","c":"VIP","s":"LC-QTP","x":0.5,"y":7.80},{"r":"tiofeno","c":"VIP","s":"LC-QTP","x":0.3333,"y":7.25},{"r":"tiofeno","c":"VIP","s":"LC-QTP","x":0.25,"y":6.96},{"r":"tiofeno","c":"VIP","s":"LC-QTP","x":0.2,"y":6.80},{"r":"tiofeno","c":"VIP","s":"LC-QTP","x":0.1667,"y":6.71},{"r":"tiofeno","c":"VIP","s":"LC-QTP","x":0.1429,"y":6.67},{"r":"tiofeno","c":"VIP","s":"LC-QTP","x":0.125,"y":6.64},{"r":"tiofeno","c":"VIP","s":"LC-QTP","x":0.1111,"y":6.62},{"r":"tiofeno","c":"VIP","s":"LC-QTP","x":0.1,"y":6.61},{"r":"tiofeno","c":"VIP","s":"LC-QTP","x":0.0909,"y":6.60},{"r":"tiofeno","c":"VIP","s":"LC-QTP","x":0.0833,"y":6.60},{"r":"tiofeno","c":"VIP","s":"LC-QTP","x":0.0769,"y":6.59},{"r":"tiofeno","c":"VIP","s":"LC-QTP","x":0.0714,"y":6.59},{"r":"tiofeno","c":"VIP","s":"LC-QTP","x":0.0667,"y":6.59},

{"r":"tiofeno","c":"HOMO","s":"CAM-QTP-00","x":1,"y":9.14},{"r":"tiofeno","c":"HOMO","s":"CAM-QTP-00","x":0.5,"y":7.98},{"r":"tiofeno","c":"HOMO","s":"CAM-QTP-00","x":0.3333,"y":7.51},{"r":"tiofeno","c":"HOMO","s":"CAM-QTP-00","x":0.25,"y":7.25},{"r":"tiofeno","c":"HOMO","s":"CAM-QTP-00","x":0.2,"y":7.10},{"r":"tiofeno","c":"HOMO","s":"CAM-QTP-00","x":0.1667,"y":7.02},{"r":"tiofeno","c":"HOMO","s":"CAM-QTP-00","x":0.1429,"y":6.96},{"r":"tiofeno","c":"HOMO","s":"CAM-QTP-00","x":0.125,"y":6.91},{"r":"tiofeno","c":"HOMO","s":"CAM-QTP-00","x":0.1111,"y":6.87},{"r":"tiofeno","c":"HOMO","s":"CAM-QTP-00","x":0.1,"y":6.84},{"r":"tiofeno","c":"HOMO","s":"CAM-QTP-00","x":0.0909,"y":6.82},{"r":"tiofeno","c":"HOMO","s":"CAM-QTP-00","x":0.0833,"y":6.80},{"r":"tiofeno","c":"HOMO","s":"CAM-QTP-00","x":0.0769,"y":6.79},{"r":"tiofeno","c":"HOMO","s":"CAM-QTP-00","x":0.0714,"y":6.78},{"r":"tiofeno","c":"HOMO","s":"CAM-QTP-00","x":0.0667,"y":6.78},
{"r":"tiofeno","c":"HOMO","s":"CAM-QTP-01","x":1,"y":9.22},{"r":"tiofeno","c":"HOMO","s":"CAM-QTP-01","x":0.5,"y":8.08},{"r":"tiofeno","c":"HOMO","s":"CAM-QTP-01","x":0.3333,"y":7.59},{"r":"tiofeno","c":"HOMO","s":"CAM-QTP-01","x":0.25,"y":7.35},{"r":"tiofeno","c":"HOMO","s":"CAM-QTP-01","x":0.2,"y":7.19},{"r":"tiofeno","c":"HOMO","s":"CAM-QTP-01","x":0.1667,"y":7.11},{"r":"tiofeno","c":"HOMO","s":"CAM-QTP-01","x":0.1429,"y":7.05},{"r":"tiofeno","c":"HOMO","s":"CAM-QTP-01","x":0.125,"y":7.02},{"r":"tiofeno","c":"HOMO","s":"CAM-QTP-01","x":0.1111,"y":6.99},{"r":"tiofeno","c":"HOMO","s":"CAM-QTP-01","x":0.1,"y":6.97},{"r":"tiofeno","c":"HOMO","s":"CAM-QTP-01","x":0.0909,"y":6.96},{"r":"tiofeno","c":"HOMO","s":"CAM-QTP-01","x":0.0833,"y":6.95},{"r":"tiofeno","c":"HOMO","s":"CAM-QTP-01","x":0.0769,"y":6.94},{"r":"tiofeno","c":"HOMO","s":"CAM-QTP-01","x":0.0714,"y":6.94},{"r":"tiofeno","c":"HOMO","s":"CAM-QTP-01","x":0.0667,"y":6.94},
{"r":"tiofeno","c":"HOMO","s":"CAM-QTP-02","x":1,"y":9.28},{"r":"tiofeno","c":"HOMO","s":"CAM-QTP-02","x":0.5,"y":8.12},{"r":"tiofeno","c":"HOMO","s":"CAM-QTP-02","x":0.3333,"y":7.62},{"r":"tiofeno","c":"HOMO","s":"CAM-QTP-02","x":0.25,"y":7.37},{"r":"tiofeno","c":"HOMO","s":"CAM-QTP-02","x":0.2,"y":7.22},{"r":"tiofeno","c":"HOMO","s":"CAM-QTP-02","x":0.1667,"y":7.13},{"r":"tiofeno","c":"HOMO","s":"CAM-QTP-02","x":0.1429,"y":7.07},{"r":"tiofeno","c":"HOMO","s":"CAM-QTP-02","x":0.125,"y":7.04},{"r":"tiofeno","c":"HOMO","s":"CAM-QTP-02","x":0.1111,"y":7.01},{"r":"tiofeno","c":"HOMO","s":"CAM-QTP-02","x":0.1,"y":6.99},{"r":"tiofeno","c":"HOMO","s":"CAM-QTP-02","x":0.0909,"y":6.98},{"r":"tiofeno","c":"HOMO","s":"CAM-QTP-02","x":0.0833,"y":6.97},{"r":"tiofeno","c":"HOMO","s":"CAM-QTP-02","x":0.0769,"y":6.96},{"r":"tiofeno","c":"HOMO","s":"CAM-QTP-02","x":0.0714,"y":6.96},{"r":"tiofeno","c":"HOMO","s":"CAM-QTP-02","x":0.0667,"y":6.96},
{"r":"tiofeno","c":"HOMO","s":"LC-QTP","x":1,"y":9.53},{"r":"tiofeno","c":"HOMO","s":"LC-QTP","x":0.5,"y":8.37},{"r":"tiofeno","c":"HOMO","s":"LC-QTP","x":0.3333,"y":7.87},{"r":"tiofeno","c":"HOMO","s":"LC-QTP","x":0.25,"y":7.61},{"r":"tiofeno","c":"HOMO","s":"LC-QTP","x":0.2,"y":7.45},{"r":"tiofeno","c":"HOMO","s":"LC-QTP","x":0.1667,"y":7.37},{"r":"tiofeno","c":"HOMO","s":"LC-QTP","x":0.1429,"y":7.31},{"r":"tiofeno","c":"HOMO","s":"LC-QTP","x":0.125,"y":7.26},{"r":"tiofeno","c":"HOMO","s":"LC-QTP","x":0.1111,"y":7.22},{"r":"tiofeno","c":"HOMO","s":"LC-QTP","x":0.1,"y":7.20},{"r":"tiofeno","c":"HOMO","s":"LC-QTP","x":0.0909,"y":7.18},{"r":"tiofeno","c":"HOMO","s":"LC-QTP","x":0.0833,"y":7.17},{"r":"tiofeno","c":"HOMO","s":"LC-QTP","x":0.0769,"y":7.16},{"r":"tiofeno","c":"HOMO","s":"LC-QTP","x":0.0714,"y":7.15},{"r":"tiofeno","c":"HOMO","s":"LC-QTP","x":0.0667,"y":7.15},

{"r":"tiofeno","c":"LUMO","s":"CAM-QTP-00","x":1,"y":9.22},{"r":"tiofeno","c":"LUMO","s":"CAM-QTP-00","x":0.5,"y":7.33},{"r":"tiofeno","c":"LUMO","s":"CAM-QTP-00","x":0.3333,"y":6.71},{"r":"tiofeno","c":"LUMO","s":"CAM-QTP-00","x":0.25,"y":6.35},{"r":"tiofeno","c":"LUMO","s":"CAM-QTP-00","x":0.2,"y":6.14},{"r":"tiofeno","c":"LUMO","s":"CAM-QTP-00","x":0.1667,"y":6.00},{"r":"tiofeno","c":"LUMO","s":"CAM-QTP-00","x":0.1429,"y":5.91},{"r":"tiofeno","c":"LUMO","s":"CAM-QTP-00","x":0.125,"y":5.84},{"r":"tiofeno","c":"LUMO","s":"CAM-QTP-00","x":0.1111,"y":5.80},{"r":"tiofeno","c":"LUMO","s":"CAM-QTP-00","x":0.1,"y":5.77},{"r":"tiofeno","c":"LUMO","s":"CAM-QTP-00","x":0.0909,"y":5.75},{"r":"tiofeno","c":"LUMO","s":"CAM-QTP-00","x":0.0833,"y":5.74},{"r":"tiofeno","c":"LUMO","s":"CAM-QTP-00","x":0.0769,"y":5.73},{"r":"tiofeno","c":"LUMO","s":"CAM-QTP-00","x":0.0714,"y":5.73},{"r":"tiofeno","c":"LUMO","s":"CAM-QTP-00","x":0.0667,"y":5.73},
{"r":"tiofeno","c":"LUMO","s":"CAM-QTP-01","x":1,"y":9.37},{"r":"tiofeno","c":"LUMO","s":"CAM-QTP-01","x":0.5,"y":7.41},{"r":"tiofeno","c":"LUMO","s":"CAM-QTP-01","x":0.3333,"y":6.77},{"r":"tiofeno","c":"LUMO","s":"CAM-QTP-01","x":0.25,"y":6.39},{"r":"tiofeno","c":"LUMO","s":"CAM-QTP-01","x":0.2,"y":6.17},{"r":"tiofeno","c":"LUMO","s":"CAM-QTP-01","x":0.1667,"y":6.04},{"r":"tiofeno","c":"LUMO","s":"CAM-QTP-01","x":0.1429,"y":5.96},{"r":"tiofeno","c":"LUMO","s":"CAM-QTP-01","x":0.125,"y":5.91},{"r":"tiofeno","c":"LUMO","s":"CAM-QTP-01","x":0.1111,"y":5.88},{"r":"tiofeno","c":"LUMO","s":"CAM-QTP-01","x":0.1,"y":5.86},{"r":"tiofeno","c":"LUMO","s":"CAM-QTP-01","x":0.0909,"y":5.85},{"r":"tiofeno","c":"LUMO","s":"CAM-QTP-01","x":0.0833,"y":5.84},{"r":"tiofeno","c":"LUMO","s":"CAM-QTP-01","x":0.0769,"y":5.84},{"r":"tiofeno","c":"LUMO","s":"CAM-QTP-01","x":0.0714,"y":5.83},{"r":"tiofeno","c":"LUMO","s":"CAM-QTP-01","x":0.0667,"y":5.83},
{"r":"tiofeno","c":"LUMO","s":"CAM-QTP-02","x":1,"y":9.15},{"r":"tiofeno","c":"LUMO","s":"CAM-QTP-02","x":0.5,"y":7.25},{"r":"tiofeno","c":"LUMO","s":"CAM-QTP-02","x":0.3333,"y":6.63},{"r":"tiofeno","c":"LUMO","s":"CAM-QTP-02","x":0.25,"y":6.29},{"r":"tiofeno","c":"LUMO","s":"CAM-QTP-02","x":0.2,"y":6.08},{"r":"tiofeno","c":"LUMO","s":"CAM-QTP-02","x":0.1667,"y":5.94},{"r":"tiofeno","c":"LUMO","s":"CAM-QTP-02","x":0.1429,"y":5.85},{"r":"tiofeno","c":"LUMO","s":"CAM-QTP-02","x":0.125,"y":5.79},{"r":"tiofeno","c":"LUMO","s":"CAM-QTP-02","x":0.1111,"y":5.75},{"r":"tiofeno","c":"LUMO","s":"CAM-QTP-02","x":0.1,"y":5.72},{"r":"tiofeno","c":"LUMO","s":"CAM-QTP-02","x":0.0909,"y":5.71},{"r":"tiofeno","c":"LUMO","s":"CAM-QTP-02","x":0.0833,"y":5.70},{"r":"tiofeno","c":"LUMO","s":"CAM-QTP-02","x":0.0769,"y":5.69},{"r":"tiofeno","c":"LUMO","s":"CAM-QTP-02","x":0.0714,"y":5.69},{"r":"tiofeno","c":"LUMO","s":"CAM-QTP-02","x":0.0667,"y":5.69},
{"r":"tiofeno","c":"LUMO","s":"LC-QTP","x":1,"y":9.06},{"r":"tiofeno","c":"LUMO","s":"LC-QTP","x":0.5,"y":7.23},{"r":"tiofeno","c":"LUMO","s":"LC-QTP","x":0.3333,"y":6.61},{"r":"tiofeno","c":"LUMO","s":"LC-QTP","x":0.25,"y":6.27},{"r":"tiofeno","c":"LUMO","s":"LC-QTP","x":0.2,"y":6.05},{"r":"tiofeno","c":"LUMO","s":"LC-QTP","x":0.1667,"y":5.92},{"r":"tiofeno","c":"LUMO","s":"LC-QTP","x":0.1429,"y":5.84},{"r":"tiofeno","c":"LUMO","s":"LC-QTP","x":0.125,"y":5.78},{"r":"tiofeno","c":"LUMO","s":"LC-QTP","x":0.1111,"y":5.74},{"r":"tiofeno","c":"LUMO","s":"LC-QTP","x":0.1,"y":5.72},{"r":"tiofeno","c":"LUMO","s":"LC-QTP","x":0.0909,"y":5.70},{"r":"tiofeno","c":"LUMO","s":"LC-QTP","x":0.0833,"y":5.69},{"r":"tiofeno","c":"LUMO","s":"LC-QTP","x":0.0769,"y":5.69},{"r":"tiofeno","c":"LUMO","s":"LC-QTP","x":0.0714,"y":5.69},{"r":"tiofeno","c":"LUMO","s":"LC-QTP","x":0.0667,"y":5.69}
]},
"columns":3,
"spacing":{"row":20,"column":14},
"bounds":"flush",
"align":"all",
"resolve":{"scale":{"color":"independent","shape":"independent","size":"independent","strokeDash":"independent"},"legend":{"color":"independent","shape":"independent","size":"independent","strokeDash":"independent"}},
"concat":[
{"width":336,"height":216,
 "transform":[{"filter":"datum.r == 'edot' && (datum.c == 'VIP' || datum.c == 'ref')"}],
 "layer":[
  {"mark":{"type":"line","strokeWidth":2.5},
   "encoding":{
    "x":{"field":"x","type":"quantitative","scale":{"domain":[0,1.1],"nice":false,"zero":false},"axis":{"orient":"bottom","values":[0,0.2,0.4,0.6,0.8,1],"tickSize":-7,"labels":false,"title":null,"encode":{"ticks":{"update":{"y2":{"signal":"(datum.value == 0.2 || datum.value == 0.6 || datum.value == 1) ? -4 : -7"}}}}}},
    "y":{"field":"y","type":"quantitative","scale":{"domain":[3.5,9.5],"nice":false,"zero":false},"axis":{"orient":"left","values":[4,5,6,7,8,9],"tickSize":-7,"labels":true,"labelPadding":22,"labelFlush":false,"labelOverlap":false,"labelExpr":"datum.value % 2 == 0 ? replace(format(datum.value, '.2f'), '.', ',') : ''","title":null,"encode":{"ticks":{"update":{"x2":{"signal":"datum.value % 2 == 1 ? 4 : 7"}}}}}},
    "color":{"field":"s","type":"nominal","scale":{"domain":["CAM-QTP-00","CAM-QTP-01","CAM-QTP-02","LC-QTP","DLPNO-CCSD(T)"],"range":["#000000","#FFA500","#00FF00","#0000FF","#FF0000"]},
      "legend":{"orient":"bottom-right","offset":21,"title":null,"values":["CAM-QTP-00","CAM-QTP-01","CAM-QTP-02"],
        "encode":{"symbols":{"update":{
          "shape":{"signal":"datum.value == 'CAM-QTP-00' ? 'M-1.36,0L1.36,0M-0.84,-0.5L-0.34,0L-0.84,0.5L-1.34,0ZM0.84,-0.5L1.34,0L0.84,0.5L0.34,0Z' : datum.value == 'CAM-QTP-01' ? 'M-1.36,0L1.36,0M-0.39,0A0.45,0.45,0,1,1,-1.29,0A0.45,0.45,0,1,1,-0.39,0ZM1.29,0A0.45,0.45,0,1,1,0.39,0A0.45,0.45,0,1,1,1.29,0Z' : datum.value == 'CAM-QTP-02' ? 'M-1.36,0L1.36,0M-1.24,-0.4L-0.44,0.4M-1.24,0.4L-0.44,-0.4M0.44,-0.4L1.24,0.4M0.44,0.4L1.24,-0.4' : datum.value == 'LC-QTP' ? 'M-1.36,0L1.36,0M-1.29,-0.45L-0.39,-0.45L-0.39,0.45L-1.29,0.45ZM0.39,-0.45L1.29,-0.45L1.29,0.45L0.39,0.45Z' : 'M-1.36,0L1.36,0'"},
          "fill":{"signal":"datum.value == 'CAM-QTP-00' ? '#000000' : datum.value == 'CAM-QTP-01' ? '#FFA500' : datum.value == 'CAM-QTP-02' ? '#00FF00' : datum.value == 'LC-QTP' ? '#0000FF' : 'transparent'"},
          "stroke":{"signal":"datum.value == 'CAM-QTP-00' ? '#000000' : datum.value == 'CAM-QTP-01' ? '#FFA500' : datum.value == 'CAM-QTP-02' ? '#00FF00' : datum.value == 'LC-QTP' ? '#0000FF' : '#FF0000'"},
          "strokeDash":{"signal":"datum.value == 'DLPNO-CCSD(T)' ? [5,4] : [1,0]"},
          "strokeWidth":{"value":2.5},"size":{"value":484},"opacity":{"value":1}}}}}},
    "strokeDash":{"field":"s","type":"nominal","scale":{"domain":["CAM-QTP-00","CAM-QTP-01","CAM-QTP-02","LC-QTP","DLPNO-CCSD(T)"],"range":[[1,0],[1,0],[1,0],[1,0],[5,4]]},"legend":null}
   }},
  {"transform":[{"filter":"datum.c != 'ref'"}],
   "mark":{"type":"point","filled":true,"opacity":1},
   "encoding":{
    "x":{"field":"x","type":"quantitative","axis":{"orient":"top","values":[0,0.2,0.4,0.6,0.8,1],"tickSize":-7,"labels":false,"title":null}},
    "y":{"field":"y","type":"quantitative","axis":{"orient":"right","values":[4,5,6,7,8,9],"tickSize":-7,"labels":false,"title":null}},
    "color":{"field":"s","type":"nominal","scale":{"domain":["CAM-QTP-00","CAM-QTP-01","CAM-QTP-02","LC-QTP","DLPNO-CCSD(T)"],"range":["#000000","#FFA500","#00FF00","#0000FF","#FF0000"]},"legend":null},
    "shape":{"field":"s","type":"nominal","scale":{"domain":["CAM-QTP-00","CAM-QTP-01","CAM-QTP-02","LC-QTP"],"range":["diamond","circle","M-1,-0.7L-0.7,-1L0,-0.3L0.7,-1L1,-0.7L0.3,0L1,0.7L0.7,1L0,0.3L-0.7,1L-1,0.7L-0.3,0Z","square"]},"legend":null},
    "size":{"field":"s","type":"nominal","scale":{"domain":["CAM-QTP-00","CAM-QTP-01","CAM-QTP-02","LC-QTP"],"range":[105,95,70,110]},"legend":null}
   }},
  {"data":{"values":[{}]},"mark":{"type":"text","text":"VIP","fontSize":32,"align":"right","baseline":"alphabetic"},"encoding":{"x":{"datum":0.709,"type":"quantitative","axis":null},"y":{"datum":9.828,"type":"quantitative","axis":null}}},
  {"data":{"values":[{}]},"mark":{"type":"text","text":"SCF","fontSize":21,"align":"left","baseline":"alphabetic"},"encoding":{"x":{"datum":0.712,"type":"quantitative","axis":null},"y":{"datum":9.633,"type":"quantitative","axis":null}}}
 ],
 "resolve":{"axis":{"x":"independent","y":"independent"}}
},
{"width":336,"height":216,
 "transform":[{"filter":"datum.r == 'edot' && (datum.c == 'HOMO' || datum.c == 'ref')"}],
 "layer":[
  {"mark":{"type":"line","strokeWidth":2.5},
   "encoding":{
    "x":{"field":"x","type":"quantitative","scale":{"domain":[0,1.1],"nice":false,"zero":false},"axis":{"orient":"bottom","values":[0,0.2,0.4,0.6,0.8,1],"tickSize":-7,"labels":false,"title":null,"encode":{"ticks":{"update":{"y2":{"signal":"(datum.value == 0.2 || datum.value == 0.6 || datum.value == 1) ? -4 : -7"}}}}}},
    "y":{"field":"y","type":"quantitative","scale":{"domain":[3.5,9.5],"nice":false,"zero":false},"axis":{"orient":"left","values":[4,5,6,7,8,9],"tickSize":-7,"labels":false,"title":null,"encode":{"ticks":{"update":{"x2":{"signal":"datum.value % 2 == 1 ? 4 : 7"}}}}}},
    "color":{"field":"s","type":"nominal","scale":{"domain":["CAM-QTP-00","CAM-QTP-01","CAM-QTP-02","LC-QTP","DLPNO-CCSD(T)"],"range":["#000000","#FFA500","#00FF00","#0000FF","#FF0000"]},
      "legend":{"orient":"bottom-right","offset":18,"title":null,"values":["LC-QTP","DLPNO-CCSD(T)"],
        "encode":{"symbols":{"update":{
          "shape":{"signal":"datum.value == 'CAM-QTP-00' ? 'M-1.36,0L1.36,0M-0.84,-0.5L-0.34,0L-0.84,0.5L-1.34,0ZM0.84,-0.5L1.34,0L0.84,0.5L0.34,0Z' : datum.value == 'CAM-QTP-01' ? 'M-1.36,0L1.36,0M-0.39,0A0.45,0.45,0,1,1,-1.29,0A0.45,0.45,0,1,1,-0.39,0ZM1.29,0A0.45,0.45,0,1,1,0.39,0A0.45,0.45,0,1,1,1.29,0Z' : datum.value == 'CAM-QTP-02' ? 'M-1.36,0L1.36,0M-1.24,-0.4L-0.44,0.4M-1.24,0.4L-0.44,-0.4M0.44,-0.4L1.24,0.4M0.44,0.4L1.24,-0.4' : datum.value == 'LC-QTP' ? 'M-1.36,0L1.36,0M-1.29,-0.45L-0.39,-0.45L-0.39,0.45L-1.29,0.45ZM0.39,-0.45L1.29,-0.45L1.29,0.45L0.39,0.45Z' : 'M-1.36,0L1.36,0'"},
          "fill":{"signal":"datum.value == 'CAM-QTP-00' ? '#000000' : datum.value == 'CAM-QTP-01' ? '#FFA500' : datum.value == 'CAM-QTP-02' ? '#00FF00' : datum.value == 'LC-QTP' ? '#0000FF' : 'transparent'"},
          "stroke":{"signal":"datum.value == 'CAM-QTP-00' ? '#000000' : datum.value == 'CAM-QTP-01' ? '#FFA500' : datum.value == 'CAM-QTP-02' ? '#00FF00' : datum.value == 'LC-QTP' ? '#0000FF' : '#FF0000'"},
          "strokeDash":{"signal":"datum.value == 'DLPNO-CCSD(T)' ? [5,4] : [1,0]"},
          "strokeWidth":{"value":2.5},"size":{"value":484},"opacity":{"value":1}}}}}},
    "strokeDash":{"field":"s","type":"nominal","scale":{"domain":["CAM-QTP-00","CAM-QTP-01","CAM-QTP-02","LC-QTP","DLPNO-CCSD(T)"],"range":[[1,0],[1,0],[1,0],[1,0],[5,4]]},"legend":null}
   }},
  {"transform":[{"filter":"datum.c != 'ref'"}],
   "mark":{"type":"point","filled":true,"opacity":1},
   "encoding":{
    "x":{"field":"x","type":"quantitative","axis":{"orient":"top","values":[0,0.2,0.4,0.6,0.8,1],"tickSize":-7,"labels":false,"title":null}},
    "y":{"field":"y","type":"quantitative","axis":{"orient":"right","values":[4,5,6,7,8,9],"tickSize":-7,"labels":false,"title":null}},
    "color":{"field":"s","type":"nominal","scale":{"domain":["CAM-QTP-00","CAM-QTP-01","CAM-QTP-02","LC-QTP","DLPNO-CCSD(T)"],"range":["#000000","#FFA500","#00FF00","#0000FF","#FF0000"]},"legend":null},
    "shape":{"field":"s","type":"nominal","scale":{"domain":["CAM-QTP-00","CAM-QTP-01","CAM-QTP-02","LC-QTP"],"range":["diamond","circle","M-1,-0.7L-0.7,-1L0,-0.3L0.7,-1L1,-0.7L0.3,0L1,0.7L0.7,1L0,0.3L-0.7,1L-1,0.7L-0.3,0Z","square"]},"legend":null},
    "size":{"field":"s","type":"nominal","scale":{"domain":["CAM-QTP-00","CAM-QTP-01","CAM-QTP-02","LC-QTP"],"range":[105,95,70,110]},"legend":null}
   }},
  {"data":{"values":[{}]},"mark":{"type":"text","text":"−ε","fontSize":34,"align":"right","baseline":"alphabetic"},"encoding":{"x":{"datum":0.4507,"type":"quantitative","axis":null},"y":{"datum":9.828,"type":"quantitative","axis":null}}},
  {"data":{"values":[{}]},"mark":{"type":"text","text":"HOMO","fontSize":22,"align":"left","baseline":"alphabetic"},"encoding":{"x":{"datum":0.4534,"type":"quantitative","axis":null},"y":{"datum":9.633,"type":"quantitative","axis":null}}},
  {"data":{"values":[{}]},"mark":{"type":"text","text":"(","fontSize":34,"align":"left","baseline":"alphabetic"},"encoding":{"x":{"datum":0.699,"type":"quantitative","axis":null},"y":{"datum":9.828,"type":"quantitative","axis":null}}},
  {"data":{"values":[{}]},"mark":{"type":"text","text":"M","fontSize":34,"fontStyle":"italic","align":"left","baseline":"alphabetic"},"encoding":{"x":{"datum":0.743,"type":"quantitative","axis":null},"y":{"datum":9.828,"type":"quantitative","axis":null}}},
  {"data":{"values":[{}]},"mark":{"type":"text","text":")","fontSize":34,"align":"left","baseline":"alphabetic"},"encoding":{"x":{"datum":0.84,"type":"quantitative","axis":null},"y":{"datum":9.828,"type":"quantitative","axis":null}}}
 ],
 "resolve":{"axis":{"x":"independent","y":"independent"}}
},
{"width":326,"height":216,
 "transform":[{"filter":"datum.r == 'edot' && (datum.c == 'LUMO' || datum.c == 'ref')"}],
 "layer":[
  {"mark":{"type":"line","strokeWidth":2.5},
   "encoding":{
    "x":{"field":"x","type":"quantitative","scale":{"domain":[0,1.067],"nice":false,"zero":false},"axis":{"orient":"bottom","values":[0,0.2,0.4,0.6,0.8,1],"tickSize":-7,"labels":false,"title":null,"encode":{"ticks":{"update":{"y2":{"signal":"(datum.value == 0.2 || datum.value == 0.6 || datum.value == 1) ? -4 : -7"}}}}}},
    "y":{"field":"y","type":"quantitative","scale":{"domain":[3.5,9.5],"nice":false,"zero":false},"axis":{"orient":"left","values":[4,5,6,7,8,9],"tickSize":-7,"labels":false,"title":null,"encode":{"ticks":{"update":{"x2":{"signal":"datum.value % 2 == 1 ? 4 : 7"}}}}}},
    "color":{"field":"s","type":"nominal","scale":{"domain":["CAM-QTP-00","CAM-QTP-01","CAM-QTP-02","LC-QTP","DLPNO-CCSD(T)"],"range":["#000000","#FFA500","#00FF00","#0000FF","#FF0000"]},"legend":null},
    "strokeDash":{"field":"s","type":"nominal","scale":{"domain":["CAM-QTP-00","CAM-QTP-01","CAM-QTP-02","LC-QTP","DLPNO-CCSD(T)"],"range":[[1,0],[1,0],[1,0],[1,0],[5,4]]},"legend":null}
   }},
  {"transform":[{"filter":"datum.c != 'ref'"}],
   "mark":{"type":"point","filled":true,"opacity":1},
   "encoding":{
    "x":{"field":"x","type":"quantitative","axis":{"orient":"top","values":[0,0.2,0.4,0.6,0.8,1],"tickSize":-7,"labels":false,"title":null}},
    "y":{"field":"y","type":"quantitative","axis":{"orient":"right","values":[4,5,6,7,8,9],"tickSize":-7,"labels":false,"title":null}},
    "color":{"field":"s","type":"nominal","scale":{"domain":["CAM-QTP-00","CAM-QTP-01","CAM-QTP-02","LC-QTP","DLPNO-CCSD(T)"],"range":["#000000","#FFA500","#00FF00","#0000FF","#FF0000"]},"legend":null},
    "shape":{"field":"s","type":"nominal","scale":{"domain":["CAM-QTP-00","CAM-QTP-01","CAM-QTP-02","LC-QTP"],"range":["diamond","circle","M-1,-0.7L-0.7,-1L0,-0.3L0.7,-1L1,-0.7L0.3,0L1,0.7L0.7,1L0,0.3L-0.7,1L-1,0.7L-0.3,0Z","square"]},"legend":null},
    "size":{"field":"s","type":"nominal","scale":{"domain":["CAM-QTP-00","CAM-QTP-01","CAM-QTP-02","LC-QTP"],"range":[105,95,70,110]},"legend":null}
   }},
  {"data":{"values":[{}]},"mark":{"type":"text","text":"−ε","fontSize":34,"align":"right","baseline":"alphabetic"},"encoding":{"x":{"datum":0.385,"type":"quantitative","axis":null},"y":{"datum":9.828,"type":"quantitative","axis":null}}},
  {"data":{"values":[{}]},"mark":{"type":"text","text":"LUMO","fontSize":22,"align":"left","baseline":"alphabetic"},"encoding":{"x":{"datum":0.388,"type":"quantitative","axis":null},"y":{"datum":9.633,"type":"quantitative","axis":null}}},
  {"data":{"values":[{}]},"mark":{"type":"text","text":"(","fontSize":34,"align":"left","baseline":"alphabetic"},"encoding":{"x":{"datum":0.624,"type":"quantitative","axis":null},"y":{"datum":9.828,"type":"quantitative","axis":null}}},
  {"data":{"values":[{}]},"mark":{"type":"text","text":"M","fontSize":34,"fontStyle":"italic","align":"left","baseline":"alphabetic"},"encoding":{"x":{"datum":0.668,"type":"quantitative","axis":null},"y":{"datum":9.828,"type":"quantitative","axis":null}}},
  {"data":{"values":[{}]},"mark":{"type":"text","text":"+","fontSize":20,"align":"left","baseline":"alphabetic"},"encoding":{"x":{"datum":0.77,"type":"quantitative","axis":null},"y":{"datum":10.133,"type":"quantitative","axis":null}}},
  {"data":{"values":[{}]},"mark":{"type":"text","text":")","fontSize":34,"align":"left","baseline":"alphabetic"},"encoding":{"x":{"datum":0.822,"type":"quantitative","axis":null},"y":{"datum":9.828,"type":"quantitative","axis":null}}},
  {"data":{"values":[{}]},"mark":{"type":"text","text":"edot","fontSize":35,"align":"right","baseline":"alphabetic"},"encoding":{"x":{"datum":0.961,"type":"quantitative","axis":null},"y":{"datum":4.27,"type":"quantitative","axis":null}}}
 ],
 "resolve":{"axis":{"x":"independent","y":"independent"}}
},
{"width":336,"height":215,
 "transform":[{"filter":"datum.r == 'furano' && (datum.c == 'VIP' || datum.c == 'ref')"}],
 "layer":[
  {"mark":{"type":"line","strokeWidth":2.5},
   "encoding":{
    "x":{"field":"x","type":"quantitative","scale":{"domain":[0,1.1],"nice":false,"zero":false},"axis":{"orient":"bottom","values":[0,0.2,0.4,0.6,0.8,1],"tickSize":-7,"labels":false,"title":null,"encode":{"ticks":{"update":{"y2":{"signal":"(datum.value == 0.2 || datum.value == 0.6 || datum.value == 1) ? -4 : -7"}}}}}},
    "y":{"field":"y","type":"quantitative","scale":{"domain":[5,10],"nice":false,"zero":false},"axis":{"orient":"left","values":[5,6,7,8,9,10],"tickSize":-7,"labels":true,"labelPadding":22,"labelFlush":false,"labelOverlap":false,"labelExpr":"datum.value % 2 == 0 ? replace(format(datum.value, '.2f'), '.', ',') : ''","title":"VIP (eV)","titlePadding":-13,"encode":{"ticks":{"update":{"x2":{"signal":"datum.value % 2 == 1 ? 4 : 7"}}}}}},
    "color":{"field":"s","type":"nominal","scale":{"domain":["CAM-QTP-00","CAM-QTP-01","CAM-QTP-02","LC-QTP","DLPNO-CCSD(T)"],"range":["#000000","#FFA500","#00FF00","#0000FF","#FF0000"]},"legend":null},
    "strokeDash":{"field":"s","type":"nominal","scale":{"domain":["CAM-QTP-00","CAM-QTP-01","CAM-QTP-02","LC-QTP","DLPNO-CCSD(T)"],"range":[[1,0],[1,0],[1,0],[1,0],[5,4]]},"legend":null}
   }},
  {"transform":[{"filter":"datum.c != 'ref'"}],
   "mark":{"type":"point","filled":true,"opacity":1},
   "encoding":{
    "x":{"field":"x","type":"quantitative","axis":{"orient":"top","values":[0,0.2,0.4,0.6,0.8,1],"tickSize":-7,"labels":false,"title":null}},
    "y":{"field":"y","type":"quantitative","axis":{"orient":"right","values":[5,6,7,8,9,10],"tickSize":-7,"labels":false,"title":null}},
    "color":{"field":"s","type":"nominal","scale":{"domain":["CAM-QTP-00","CAM-QTP-01","CAM-QTP-02","LC-QTP","DLPNO-CCSD(T)"],"range":["#000000","#FFA500","#00FF00","#0000FF","#FF0000"]},"legend":null},
    "shape":{"field":"s","type":"nominal","scale":{"domain":["CAM-QTP-00","CAM-QTP-01","CAM-QTP-02","LC-QTP"],"range":["diamond","circle","M-1,-0.7L-0.7,-1L0,-0.3L0.7,-1L1,-0.7L0.3,0L1,0.7L0.7,1L0,0.3L-0.7,1L-1,0.7L-0.3,0Z","square"]},"legend":null},
    "size":{"field":"s","type":"nominal","scale":{"domain":["CAM-QTP-00","CAM-QTP-01","CAM-QTP-02","LC-QTP"],"range":[105,95,70,110]},"legend":null}
   }}
 ],
 "resolve":{"axis":{"x":"independent","y":"independent"}}
},
{"width":336,"height":215,
 "transform":[{"filter":"datum.r == 'furano' && (datum.c == 'HOMO' || datum.c == 'ref')"}],
 "layer":[
  {"mark":{"type":"line","strokeWidth":2.5},
   "encoding":{
    "x":{"field":"x","type":"quantitative","scale":{"domain":[0,1.1],"nice":false,"zero":false},"axis":{"orient":"bottom","values":[0,0.2,0.4,0.6,0.8,1],"tickSize":-7,"labels":false,"title":null,"encode":{"ticks":{"update":{"y2":{"signal":"(datum.value == 0.2 || datum.value == 0.6 || datum.value == 1) ? -4 : -7"}}}}}},
    "y":{"field":"y","type":"quantitative","scale":{"domain":[5,10],"nice":false,"zero":false},"axis":{"orient":"left","values":[5,6,7,8,9,10],"tickSize":-7,"labels":false,"title":null,"encode":{"ticks":{"update":{"x2":{"signal":"datum.value % 2 == 1 ? 4 : 7"}}}}}},
    "color":{"field":"s","type":"nominal","scale":{"domain":["CAM-QTP-00","CAM-QTP-01","CAM-QTP-02","LC-QTP","DLPNO-CCSD(T)"],"range":["#000000","#FFA500","#00FF00","#0000FF","#FF0000"]},"legend":null},
    "strokeDash":{"field":"s","type":"nominal","scale":{"domain":["CAM-QTP-00","CAM-QTP-01","CAM-QTP-02","LC-QTP","DLPNO-CCSD(T)"],"range":[[1,0],[1,0],[1,0],[1,0],[5,4]]},"legend":null}
   }},
  {"transform":[{"filter":"datum.c != 'ref'"}],
   "mark":{"type":"point","filled":true,"opacity":1},
   "encoding":{
    "x":{"field":"x","type":"quantitative","axis":{"orient":"top","values":[0,0.2,0.4,0.6,0.8,1],"tickSize":-7,"labels":false,"title":null}},
    "y":{"field":"y","type":"quantitative","axis":{"orient":"right","values":[5,6,7,8,9,10],"tickSize":-7,"labels":false,"title":null}},
    "color":{"field":"s","type":"nominal","scale":{"domain":["CAM-QTP-00","CAM-QTP-01","CAM-QTP-02","LC-QTP","DLPNO-CCSD(T)"],"range":["#000000","#FFA500","#00FF00","#0000FF","#FF0000"]},"legend":null},
    "shape":{"field":"s","type":"nominal","scale":{"domain":["CAM-QTP-00","CAM-QTP-01","CAM-QTP-02","LC-QTP"],"range":["diamond","circle","M-1,-0.7L-0.7,-1L0,-0.3L0.7,-1L1,-0.7L0.3,0L1,0.7L0.7,1L0,0.3L-0.7,1L-1,0.7L-0.3,0Z","square"]},"legend":null},
    "size":{"field":"s","type":"nominal","scale":{"domain":["CAM-QTP-00","CAM-QTP-01","CAM-QTP-02","LC-QTP"],"range":[105,95,70,110]},"legend":null}
   }}
 ],
 "resolve":{"axis":{"x":"independent","y":"independent"}}
},
{"width":326,"height":215,
 "transform":[{"filter":"datum.r == 'furano' && (datum.c == 'LUMO' || datum.c == 'ref')"}],
 "layer":[
  {"mark":{"type":"line","strokeWidth":2.5},
   "encoding":{
    "x":{"field":"x","type":"quantitative","scale":{"domain":[0,1.067],"nice":false,"zero":false},"axis":{"orient":"bottom","values":[0,0.2,0.4,0.6,0.8,1],"tickSize":-7,"labels":false,"title":null,"encode":{"ticks":{"update":{"y2":{"signal":"(datum.value == 0.2 || datum.value == 0.6 || datum.value == 1) ? -4 : -7"}}}}}},
    "y":{"field":"y","type":"quantitative","scale":{"domain":[5,10],"nice":false,"zero":false},"axis":{"orient":"left","values":[5,6,7,8,9,10],"tickSize":-7,"labels":false,"title":null,"encode":{"ticks":{"update":{"x2":{"signal":"datum.value % 2 == 1 ? 4 : 7"}}}}}},
    "color":{"field":"s","type":"nominal","scale":{"domain":["CAM-QTP-00","CAM-QTP-01","CAM-QTP-02","LC-QTP","DLPNO-CCSD(T)"],"range":["#000000","#FFA500","#00FF00","#0000FF","#FF0000"]},"legend":null},
    "strokeDash":{"field":"s","type":"nominal","scale":{"domain":["CAM-QTP-00","CAM-QTP-01","CAM-QTP-02","LC-QTP","DLPNO-CCSD(T)"],"range":[[1,0],[1,0],[1,0],[1,0],[5,4]]},"legend":null}
   }},
  {"transform":[{"filter":"datum.c != 'ref'"}],
   "mark":{"type":"point","filled":true,"opacity":1},
   "encoding":{
    "x":{"field":"x","type":"quantitative","axis":{"orient":"top","values":[0,0.2,0.4,0.6,0.8,1],"tickSize":-7,"labels":false,"title":null}},
    "y":{"field":"y","type":"quantitative","axis":{"orient":"right","values":[5,6,7,8,9,10],"tickSize":-7,"labels":false,"title":null}},
    "color":{"field":"s","type":"nominal","scale":{"domain":["CAM-QTP-00","CAM-QTP-01","CAM-QTP-02","LC-QTP","DLPNO-CCSD(T)"],"range":["#000000","#FFA500","#00FF00","#0000FF","#FF0000"]},"legend":null},
    "shape":{"field":"s","type":"nominal","scale":{"domain":["CAM-QTP-00","CAM-QTP-01","CAM-QTP-02","LC-QTP"],"range":["diamond","circle","M-1,-0.7L-0.7,-1L0,-0.3L0.7,-1L1,-0.7L0.3,0L1,0.7L0.7,1L0,0.3L-0.7,1L-1,0.7L-0.3,0Z","square"]},"legend":null},
    "size":{"field":"s","type":"nominal","scale":{"domain":["CAM-QTP-00","CAM-QTP-01","CAM-QTP-02","LC-QTP"],"range":[105,95,70,110]},"legend":null}
   }},
  {"data":{"values":[{}]},"mark":{"type":"text","text":"furano","fontSize":35,"align":"right","baseline":"alphabetic"},"encoding":{"x":{"datum":0.961,"type":"quantitative","axis":null},"y":{"datum":5.685,"type":"quantitative","axis":null}}}
 ],
 "resolve":{"axis":{"x":"independent","y":"independent"}}
},
{"width":336,"height":216,
 "transform":[{"filter":"datum.r == 'tiofeno' && (datum.c == 'VIP' || datum.c == 'ref')"}],
 "layer":[
  {"mark":{"type":"line","strokeWidth":2.5},
   "encoding":{
    "x":{"field":"x","type":"quantitative","scale":{"domain":[0,1.1],"nice":false,"zero":false},"axis":{"orient":"bottom","values":[0,0.2,0.4,0.6,0.8,1],"tickSize":-7,"labels":true,"labelPadding":23,"labelFlush":false,"labelOverlap":false,"labelExpr":"datum.value == 0 ? '0' : datum.value == 0.4 ? '0,4' : datum.value == 0.8 ? '0,8' : ''","title":null,"encode":{"ticks":{"update":{"y2":{"signal":"(datum.value == 0.2 || datum.value == 0.6 || datum.value == 1) ? -4 : -7"}}}}}},
    "y":{"field":"y","type":"quantitative","scale":{"domain":[5,10],"nice":false,"zero":false},"axis":{"orient":"left","values":[5,6,7,8,9,10],"tickSize":-7,"labels":true,"labelPadding":22,"labelFlush":false,"labelOverlap":false,"labelExpr":"datum.value == 6 ? '6,0' : datum.value % 2 == 0 ? replace(format(datum.value, '.2f'), '.', ',') : ''","title":null,"encode":{"ticks":{"update":{"x2":{"signal":"datum.value % 2 == 1 ? 4 : 7"}}}}}},
    "color":{"field":"s","type":"nominal","scale":{"domain":["CAM-QTP-00","CAM-QTP-01","CAM-QTP-02","LC-QTP","DLPNO-CCSD(T)"],"range":["#000000","#FFA500","#00FF00","#0000FF","#FF0000"]},"legend":null},
    "strokeDash":{"field":"s","type":"nominal","scale":{"domain":["CAM-QTP-00","CAM-QTP-01","CAM-QTP-02","LC-QTP","DLPNO-CCSD(T)"],"range":[[1,0],[1,0],[1,0],[1,0],[5,4]]},"legend":null}
   }},
  {"transform":[{"filter":"datum.c != 'ref'"}],
   "mark":{"type":"point","filled":true,"opacity":1},
   "encoding":{
    "x":{"field":"x","type":"quantitative","axis":{"orient":"top","values":[0,0.2,0.4,0.6,0.8,1],"tickSize":-7,"labels":false,"title":null}},
    "y":{"field":"y","type":"quantitative","axis":{"orient":"right","values":[5,6,7,8,9,10],"tickSize":-7,"labels":false,"title":null}},
    "color":{"field":"s","type":"nominal","scale":{"domain":["CAM-QTP-00","CAM-QTP-01","CAM-QTP-02","LC-QTP","DLPNO-CCSD(T)"],"range":["#000000","#FFA500","#00FF00","#0000FF","#FF0000"]},"legend":null},
    "shape":{"field":"s","type":"nominal","scale":{"domain":["CAM-QTP-00","CAM-QTP-01","CAM-QTP-02","LC-QTP"],"range":["diamond","circle","M-1,-0.7L-0.7,-1L0,-0.3L0.7,-1L1,-0.7L0.3,0L1,0.7L0.7,1L0,0.3L-0.7,1L-1,0.7L-0.3,0Z","square"]},"legend":null},
    "size":{"field":"s","type":"nominal","scale":{"domain":["CAM-QTP-00","CAM-QTP-01","CAM-QTP-02","LC-QTP"],"range":[105,95,70,110]},"legend":null}
   }}
 ],
 "resolve":{"axis":{"x":"independent","y":"independent"}}
},
{"width":336,"height":216,
 "transform":[{"filter":"datum.r == 'tiofeno' && (datum.c == 'HOMO' || datum.c == 'ref')"}],
 "layer":[
  {"mark":{"type":"line","strokeWidth":2.5},
   "encoding":{
    "x":{"field":"x","type":"quantitative","scale":{"domain":[0,1.1],"nice":false,"zero":false},"axis":{"orient":"bottom","values":[0,0.2,0.4,0.6,0.8,1],"tickSize":-7,"labels":true,"labelPadding":23,"labelFlush":false,"labelOverlap":false,"labelExpr":"datum.value == 0 ? '0' : datum.value == 0.4 ? '0,4' : datum.value == 0.8 ? '0,8' : ''","title":"1/n","titlePadding":7,"titleX":160,"encode":{"ticks":{"update":{"y2":{"signal":"(datum.value == 0.2 || datum.value == 0.6 || datum.value == 1) ? -4 : -7"}}}}}},
    "y":{"field":"y","type":"quantitative","scale":{"domain":[5,10],"nice":false,"zero":false},"axis":{"orient":"left","values":[5,6,7,8,9,10],"tickSize":-7,"labels":false,"title":null,"encode":{"ticks":{"update":{"x2":{"signal":"datum.value % 2 == 1 ? 4 : 7"}}}}}},
    "color":{"field":"s","type":"nominal","scale":{"domain":["CAM-QTP-00","CAM-QTP-01","CAM-QTP-02","LC-QTP","DLPNO-CCSD(T)"],"range":["#000000","#FFA500","#00FF00","#0000FF","#FF0000"]},"legend":null},
    "strokeDash":{"field":"s","type":"nominal","scale":{"domain":["CAM-QTP-00","CAM-QTP-01","CAM-QTP-02","LC-QTP","DLPNO-CCSD(T)"],"range":[[1,0],[1,0],[1,0],[1,0],[5,4]]},"legend":null}
   }},
  {"transform":[{"filter":"datum.c != 'ref'"}],
   "mark":{"type":"point","filled":true,"opacity":1},
   "encoding":{
    "x":{"field":"x","type":"quantitative","axis":{"orient":"top","values":[0,0.2,0.4,0.6,0.8,1],"tickSize":-7,"labels":false,"title":null}},
    "y":{"field":"y","type":"quantitative","axis":{"orient":"right","values":[5,6,7,8,9,10],"tickSize":-7,"labels":false,"title":null}},
    "color":{"field":"s","type":"nominal","scale":{"domain":["CAM-QTP-00","CAM-QTP-01","CAM-QTP-02","LC-QTP","DLPNO-CCSD(T)"],"range":["#000000","#FFA500","#00FF00","#0000FF","#FF0000"]},"legend":null},
    "shape":{"field":"s","type":"nominal","scale":{"domain":["CAM-QTP-00","CAM-QTP-01","CAM-QTP-02","LC-QTP"],"range":["diamond","circle","M-1,-0.7L-0.7,-1L0,-0.3L0.7,-1L1,-0.7L0.3,0L1,0.7L0.7,1L0,0.3L-0.7,1L-1,0.7L-0.3,0Z","square"]},"legend":null},
    "size":{"field":"s","type":"nominal","scale":{"domain":["CAM-QTP-00","CAM-QTP-01","CAM-QTP-02","LC-QTP"],"range":[105,95,70,110]},"legend":null}
   }}
 ],
 "resolve":{"axis":{"x":"independent","y":"independent"}}
},
{"width":326,"height":216,
 "transform":[{"filter":"datum.r == 'tiofeno' && (datum.c == 'LUMO' || datum.c == 'ref')"}],
 "layer":[
  {"mark":{"type":"line","strokeWidth":2.5},
   "encoding":{
    "x":{"field":"x","type":"quantitative","scale":{"domain":[0,1.067],"nice":false,"zero":false},"axis":{"orient":"bottom","values":[0,0.2,0.4,0.6,0.8,1],"tickSize":-7,"labels":true,"labelPadding":23,"labelFlush":false,"labelOverlap":false,"labelExpr":"datum.value == 0 ? '0' : datum.value == 0.4 ? '0,4' : datum.value == 0.8 ? '0,8' : ''","title":null,"encode":{"ticks":{"update":{"y2":{"signal":"(datum.value == 0.2 || datum.value == 0.6 || datum.value == 1) ? -4 : -7"}}}}}},
    "y":{"field":"y","type":"quantitative","scale":{"domain":[5,10],"nice":false,"zero":false},"axis":{"orient":"left","values":[5,6,7,8,9,10],"tickSize":-7,"labels":false,"title":null,"encode":{"ticks":{"update":{"x2":{"signal":"datum.value % 2 == 1 ? 4 : 7"}}}}}},
    "color":{"field":"s","type":"nominal","scale":{"domain":["CAM-QTP-00","CAM-QTP-01","CAM-QTP-02","LC-QTP","DLPNO-CCSD(T)"],"range":["#000000","#FFA500","#00FF00","#0000FF","#FF0000"]},"legend":null},
    "strokeDash":{"field":"s","type":"nominal","scale":{"domain":["CAM-QTP-00","CAM-QTP-01","CAM-QTP-02","LC-QTP","DLPNO-CCSD(T)"],"range":[[1,0],[1,0],[1,0],[1,0],[5,4]]},"legend":null}
   }},
  {"transform":[{"filter":"datum.c != 'ref'"}],
   "mark":{"type":"point","filled":true,"opacity":1},
   "encoding":{
    "x":{"field":"x","type":"quantitative","axis":{"orient":"top","values":[0,0.2,0.4,0.6,0.8,1],"tickSize":-7,"labels":false,"title":null}},
    "y":{"field":"y","type":"quantitative","axis":{"orient":"right","values":[5,6,7,8,9,10],"tickSize":-7,"labels":false,"title":null}},
    "color":{"field":"s","type":"nominal","scale":{"domain":["CAM-QTP-00","CAM-QTP-01","CAM-QTP-02","LC-QTP","DLPNO-CCSD(T)"],"range":["#000000","#FFA500","#00FF00","#0000FF","#FF0000"]},"legend":null},
    "shape":{"field":"s","type":"nominal","scale":{"domain":["CAM-QTP-00","CAM-QTP-01","CAM-QTP-02","LC-QTP"],"range":["diamond","circle","M-1,-0.7L-0.7,-1L0,-0.3L0.7,-1L1,-0.7L0.3,0L1,0.7L0.7,1L0,0.3L-0.7,1L-1,0.7L-0.3,0Z","square"]},"legend":null},
    "size":{"field":"s","type":"nominal","scale":{"domain":["CAM-QTP-00","CAM-QTP-01","CAM-QTP-02","LC-QTP"],"range":[105,95,70,110]},"legend":null}
   }},
  {"data":{"values":[{}]},"mark":{"type":"text","text":"tiofeno","fontSize":35,"align":"right","baseline":"alphabetic"},"encoding":{"x":{"datum":0.961,"type":"quantitative","axis":null},"y":{"datum":5.72,"type":"quantitative","axis":null}}}
 ],
 "resolve":{"axis":{"x":"independent","y":"independent"}}
}
]
}
